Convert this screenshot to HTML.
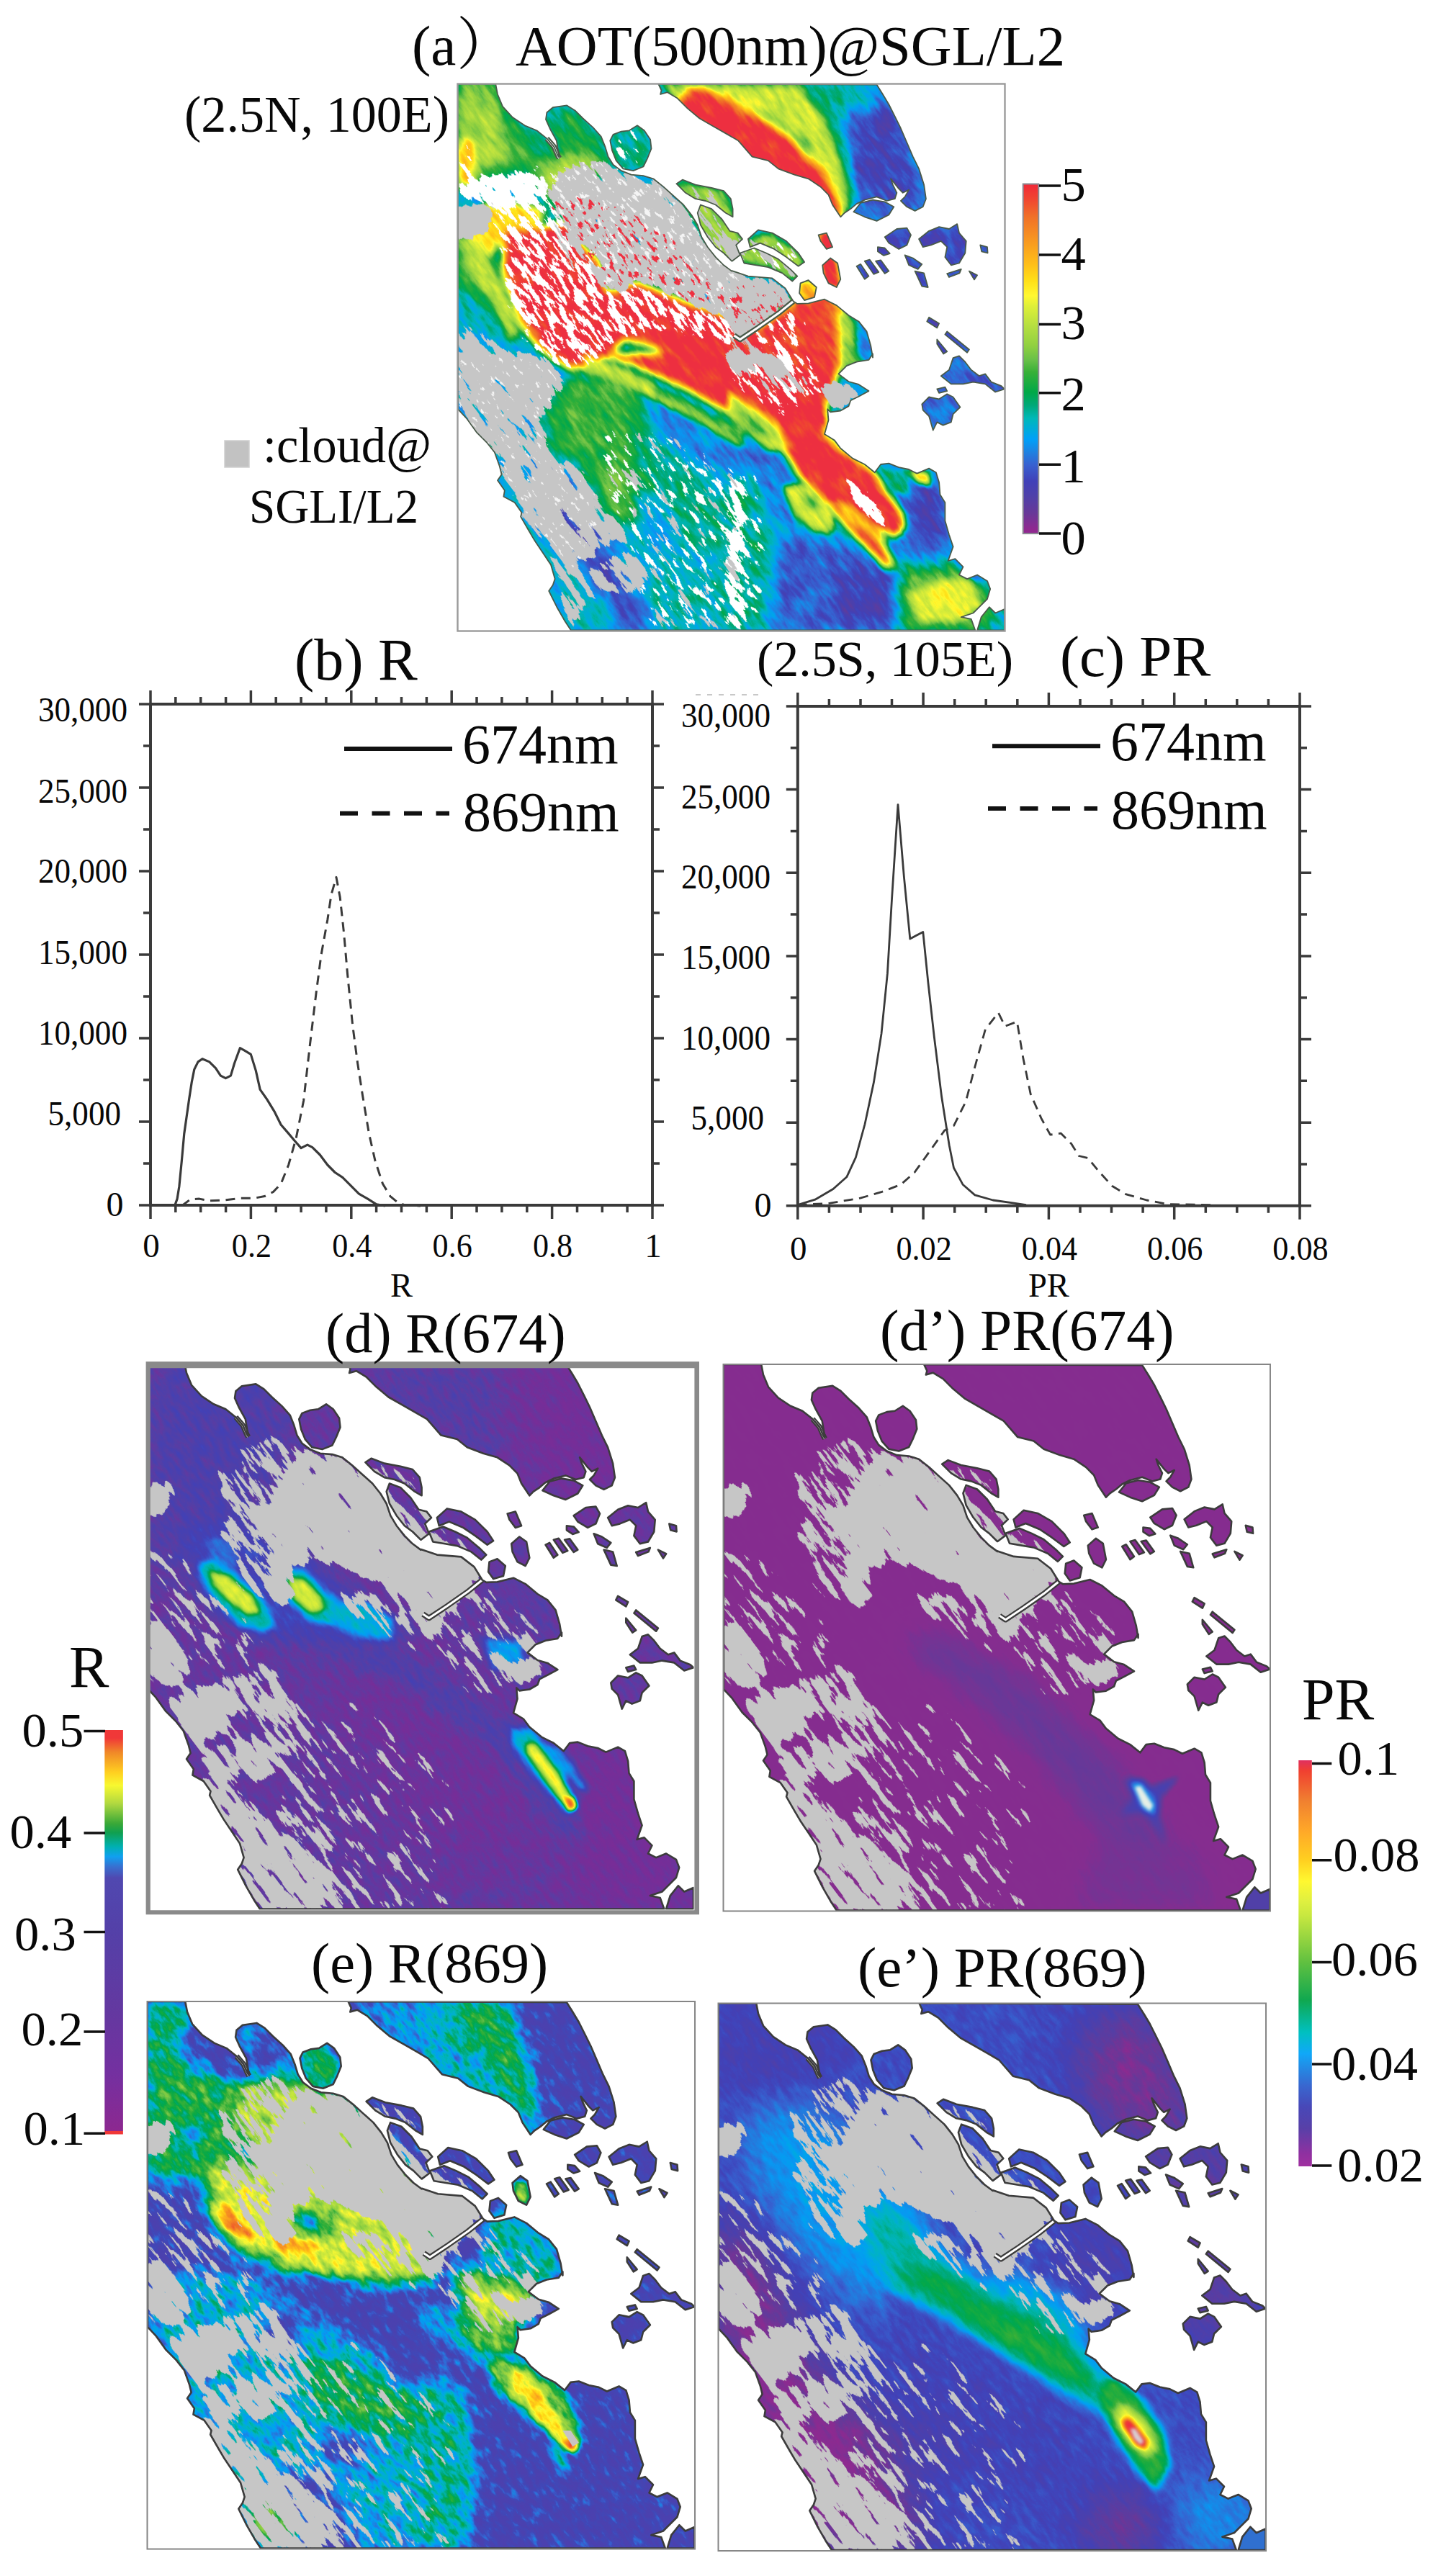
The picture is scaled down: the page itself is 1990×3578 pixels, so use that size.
<!DOCTYPE html><html><head><meta charset="utf-8"><title>Figure</title><style>html,body{margin:0;padding:0;background:#fff}svg{display:block}text{font-family:"Liberation Serif","Noto Serif CJK SC",serif;fill:#080808}</style></head><body>
<svg width="1990" height="3578" viewBox="0 0 1990 3578">
<defs><linearGradient id="gAOT" x1="0" y1="0" x2="0" y2="1"><stop offset="0" stop-color="#f02838"/><stop offset="0.047" stop-color="#f04830"/><stop offset="0.093" stop-color="#f07028"/><stop offset="0.163" stop-color="#f89820"/><stop offset="0.232" stop-color="#ffc018"/><stop offset="0.278" stop-color="#ffe018"/><stop offset="0.32" stop-color="#fff830"/><stop offset="0.348" stop-color="#e0f038"/><stop offset="0.402" stop-color="#b8e040"/><stop offset="0.463" stop-color="#90d040"/><stop offset="0.5035" stop-color="#68c048"/><stop offset="0.538" stop-color="#38b038"/><stop offset="0.596" stop-color="#00a848"/><stop offset="0.633" stop-color="#00a878"/><stop offset="0.67" stop-color="#00b8b8"/><stop offset="0.73" stop-color="#00a0f8"/><stop offset="0.769" stop-color="#2080e0"/><stop offset="0.804" stop-color="#3860d0"/><stop offset="0.85" stop-color="#4040b8"/><stop offset="0.896" stop-color="#5040a8"/><stop offset="0.942" stop-color="#683898"/><stop offset="0.988" stop-color="#902890"/><stop offset="1" stop-color="#902890"/></linearGradient><linearGradient id="gR" x1="0" y1="0" x2="0" y2="1"><stop offset="0" stop-color="#f03838"/><stop offset="0.02" stop-color="#f03838"/><stop offset="0.055" stop-color="#f08828"/><stop offset="0.105" stop-color="#ffd020"/><stop offset="0.137" stop-color="#f8f830"/><stop offset="0.182" stop-color="#b0d840"/><stop offset="0.232" stop-color="#38a838"/><stop offset="0.254" stop-color="#10a050"/><stop offset="0.288" stop-color="#00b0b0"/><stop offset="0.313" stop-color="#10a0f0"/><stop offset="0.338" stop-color="#3870d0"/><stop offset="0.366" stop-color="#5048b0"/><stop offset="0.5" stop-color="#5440a8"/><stop offset="0.7" stop-color="#6438a0"/><stop offset="0.85" stop-color="#7430a0"/><stop offset="0.991" stop-color="#8c2890"/><stop offset="0.992" stop-color="#f03838"/><stop offset="1" stop-color="#f03838"/></linearGradient><linearGradient id="gPR" x1="0" y1="0" x2="0" y2="1"><stop offset="0" stop-color="#e03060"/><stop offset="0.026" stop-color="#f04030"/><stop offset="0.1" stop-color="#f08030"/><stop offset="0.174" stop-color="#ffa828"/><stop offset="0.2465" stop-color="#ffd020"/><stop offset="0.298" stop-color="#fff830"/><stop offset="0.3456" stop-color="#e0f040"/><stop offset="0.382" stop-color="#c8e840"/><stop offset="0.498" stop-color="#60c040"/><stop offset="0.591" stop-color="#10a850"/><stop offset="0.67" stop-color="#00c0c0"/><stop offset="0.722" stop-color="#10a8f8"/><stop offset="0.75" stop-color="#2090e8"/><stop offset="0.8" stop-color="#3868d0"/><stop offset="0.853" stop-color="#4848b8"/><stop offset="0.906" stop-color="#5840a8"/><stop offset="0.97" stop-color="#9030a0"/><stop offset="1" stop-color="#a030a0"/></linearGradient><clipPath id="land"><path d="M0,0 L52.7,0 L55.5,14.5 L62.5,31.3 L76.4,46.6 L93.2,57.8 L109.9,64.8 L123.9,75.9 L133.7,87.1 L139.2,99.7 L141.2,102.5 L137.3,78.7 L128.1,62 L122.5,49.4 L123.9,39.7 L132.3,32.7 L151.8,29.9 L163,36.9 L174.1,48 L188.1,60.6 L199.2,73.1 L204.8,87.1 L209,101.1 L216,112.2 L227.2,120.6 L241.1,126.2 L257.9,127.6 L271.8,131.8 L285.8,142.9 L299.7,155.5 L313.7,168 L324.8,182 L333.2,196 L338.8,212.7 L347.2,226.7 L358.3,240.6 L369.5,251.8 L380.7,260.1 L381.1,259.6 L403.4,267.1 L436.9,269.9 L455,283.9 L466.2,302 L471.8,305.4 L487.1,304.8 L509.5,299.2 L526.2,307.6 L543,321.5 L556.9,329.9 L568.1,343.9 L573.7,363.4 L576.5,380.2 L576.5,375 L570.9,383.4 L554.1,386.2 L540.2,391.7 L529,402.9 L543,413.5 L556.9,417.4 L570.9,426.6 L556.9,434.2 L545.8,439.8 L543,447.6 L531.8,454 L517.8,455.9 L513.7,451.8 L515,467.1 L509.5,486.6 L523.4,495 L531.8,506.2 L548.5,520.1 L565.3,528.5 L579.2,539.7 L587.6,528.5 L598.8,527.1 L612.7,532.7 L626.7,535.5 L637.9,541.1 L654.6,534.1 L664.4,539.7 L668.6,553.6 L670,570.4 L676.9,581.5 L676.9,606.7 L682.5,626.2 L688.1,642.9 L681.1,662.5 L690.9,659.7 L702,670.8 L696.5,682 L707.6,687.6 L721.6,682 L735.5,690.4 L739.7,701.5 L735.5,715.5 L724.4,726.7 L716,735 L699.3,740.6 L713.2,743.4 L718.8,759 L157.4,759 L149,746.2 L137.8,726.7 L126.7,704.3 L132.3,696 L135.1,687.6 L129.5,668.1 L118.3,651.3 L107.1,634.6 L98.8,620.6 L87.6,601.1 L89,595.5 L79.2,581.5 L63.9,573.2 L65.3,564.8 L55.5,550.8 L61.1,542.5 L58.3,531.3 L51.3,511.8 L40.2,497.8 L26.2,483.8 L12.2,464.3 L0.5,451.8ZM278.8,0 L283,9 L281.6,14.5 L291.3,11.7 L305.3,20.1 L319.3,34.1 L336,48 L355.5,59.2 L375.1,70.4 L389.5,78.7 L409,101.1 L431.3,106.6 L445.3,117.8 L467.6,126.2 L487.1,131.8 L503.9,142.9 L515,154.1 L520.6,168 L531.8,184.8 L537.4,179.2 L545.8,173.6 L554.1,166.6 L565.3,161.1 L582,156.9 L596,162.5 L607.2,159.7 L609.9,151.3 L604.4,140.1 L601.6,131.8 L612.7,145.7 L618.3,151.3 L626.7,147.1 L621.1,156.9 L615.5,162.5 L623.9,170.8 L635.1,176.4 L646.2,170.8 L650.4,159.7 L647.6,140.1 L640.6,117.8 L632.3,101.1 L623.9,81.5 L615.5,62 L607.2,45.2 L598.8,28.5 L590.4,14.5 L582,1.1ZM216,70.4 L227.2,66.2 L238.3,64.8 L249.5,57.8 L259.2,64.8 L267.6,77.3 L269,89.9 L263.4,103.8 L257.9,115 L243.9,120.6 L229.9,117.8 L220.2,106.6 L214.6,92.7 L211.8,78.7ZM303.9,138.7 L312.3,133.2 L330.4,140.1 L352.7,144.3 L369.5,148.5 L379.3,159.7 L382.1,173.6 L382.1,184.8 L372.3,179.2 L358.3,168 L344.4,162.5 L330.4,159.7 L316.5,151.3ZM337.4,168 L352.7,173.6 L366.7,187.6 L377.9,204.3 L389,207.1 L395.5,215.5 L386.7,223.9 L392.2,237.8 L381.1,246.2 L380.7,246.2 L369.5,235 L358.3,226.7 L347.2,212.7 L337.4,196 L333.2,179.2ZM403.4,215.5 L417.4,202.9 L436.9,207.1 L456.4,218.3 L473.2,235 L481.6,247.6 L473.2,253.2 L456.4,240.6 L439.7,229.4 L420.2,221.1 L406.2,226.7ZM392.2,235 L411.8,228 L428.5,235 L445.3,243.4 L462,257.4 L471.8,267.1 L464.8,274.1 L450.9,262.9 L431.3,254.6 L414.6,251.8 L397.8,249ZM476,276.9 L487.1,272.7 L498.3,282.5 L495.5,296.4 L481.6,300.6 L474.6,290.8ZM549.9,177.8 L559.7,165.3 L576.5,161.1 L593.2,163.9 L605.8,170.8 L598.8,182 L582,190.4 L565.3,184.8ZM640.6,215.5 L654.6,204.3 L668.6,198.7 L682.5,201.5 L693.7,194.6 L696.5,207.1 L706.2,218.3 L704.8,235 L696.5,249 L685.3,251.8 L676.9,240.6 L679.7,226.7 L671.3,218.3 L657.4,223.9 L646.2,226.7ZM593.2,212.7 L609.9,201.5 L623.9,200.1 L629.5,209.9 L623.9,223.9 L612.7,229.4 L598.8,221.1ZM501.1,209.9 L512.3,207.1 L520.6,226.7 L512.3,229.4 L503.9,218.3ZM506.7,251.8 L517.8,242 L527.6,249 L531.8,271.3 L526.2,282.5 L515,276.9 L508.1,262.9ZM554.1,253.2 L559.7,250.4 L570.9,267.1 L565.3,271.3ZM565.3,246.2 L572.3,244.2 L584.8,261.5 L577.8,264.3ZM580.6,246.2 L587.6,244.8 L598.8,260.1 L593.2,263.5ZM583.4,226.7 L593.2,228 L600.2,235.6 L591.8,238.4 L583.4,232.8ZM621.1,237.8 L632.3,242 L644.8,250.4 L639.2,257.4 L626.7,251.8ZM635.1,260.1 L647.6,262.9 L653.2,282.5 L644.8,281.1ZM725.8,223.9 L735.5,226.7 L736.1,235 L727.7,232.8ZM679.7,263.5 L699.3,257.4 L697,262.9 L682.5,268.5ZM710.4,260.1 L721.6,265.7 L717.4,271.9ZM654.6,324.3 L668.6,332.7 L665.8,338.9 L651.8,329.9ZM679.7,343.9 L710.4,369 L707.6,373.2 L676.9,348.1ZM665.8,355 L679.7,371.8 L674.7,375.1 L665.8,361.2ZM671.3,405.7 L682.5,397.3 L688.1,380.6 L696.5,377.8 L704.8,386.2 L713.2,397.3 L724.4,405.7 L732.7,402.9 L741.1,414.1 L755.1,419.7 L759.5,423.8 L746.7,428 L732.7,416.9 L716,414.1 L702,416.9 L685.3,416.9ZM644.8,444.8 L654.6,435 L668.6,437.8 L679.7,430.8 L688.1,435 L697.9,449 L688.1,458.7 L685.3,469.9 L674.1,474.1 L665.8,469.9 L660.2,481.1 L654.6,461.5 L646.2,453.1ZM665.8,423.8 L676.9,421.1 L679.7,426.6 L668.6,429.4ZM721.6,759 L727.2,740.6 L738.3,726.7 L746.7,735 L759.5,729.5 L759.5,759Z"/></clipPath>
<clipPath id="box"><rect x="0" y="0" width="760" height="760"/></clipPath>
<path id="coast" d="M0,0 L52.7,0 L55.5,14.5 L62.5,31.3 L76.4,46.6 L93.2,57.8 L109.9,64.8 L123.9,75.9 L133.7,87.1 L139.2,99.7 L141.2,102.5 L137.3,78.7 L128.1,62 L122.5,49.4 L123.9,39.7 L132.3,32.7 L151.8,29.9 L163,36.9 L174.1,48 L188.1,60.6 L199.2,73.1 L204.8,87.1 L209,101.1 L216,112.2 L227.2,120.6 L241.1,126.2 L257.9,127.6 L271.8,131.8 L285.8,142.9 L299.7,155.5 L313.7,168 L324.8,182 L333.2,196 L338.8,212.7 L347.2,226.7 L358.3,240.6 L369.5,251.8 L380.7,260.1 L381.1,259.6 L403.4,267.1 L436.9,269.9 L455,283.9 L466.2,302 L471.8,305.4 L487.1,304.8 L509.5,299.2 L526.2,307.6 L543,321.5 L556.9,329.9 L568.1,343.9 L573.7,363.4 L576.5,380.2 L576.5,375 L570.9,383.4 L554.1,386.2 L540.2,391.7 L529,402.9 L543,413.5 L556.9,417.4 L570.9,426.6 L556.9,434.2 L545.8,439.8 L543,447.6 L531.8,454 L517.8,455.9 L513.7,451.8 L515,467.1 L509.5,486.6 L523.4,495 L531.8,506.2 L548.5,520.1 L565.3,528.5 L579.2,539.7 L587.6,528.5 L598.8,527.1 L612.7,532.7 L626.7,535.5 L637.9,541.1 L654.6,534.1 L664.4,539.7 L668.6,553.6 L670,570.4 L676.9,581.5 L676.9,606.7 L682.5,626.2 L688.1,642.9 L681.1,662.5 L690.9,659.7 L702,670.8 L696.5,682 L707.6,687.6 L721.6,682 L735.5,690.4 L739.7,701.5 L735.5,715.5 L724.4,726.7 L716,735 L699.3,740.6 L713.2,743.4 L718.8,759 L157.4,759 L149,746.2 L137.8,726.7 L126.7,704.3 L132.3,696 L135.1,687.6 L129.5,668.1 L118.3,651.3 L107.1,634.6 L98.8,620.6 L87.6,601.1 L89,595.5 L79.2,581.5 L63.9,573.2 L65.3,564.8 L55.5,550.8 L61.1,542.5 L58.3,531.3 L51.3,511.8 L40.2,497.8 L26.2,483.8 L12.2,464.3 L0.5,451.8ZM278.8,0 L283,9 L281.6,14.5 L291.3,11.7 L305.3,20.1 L319.3,34.1 L336,48 L355.5,59.2 L375.1,70.4 L389.5,78.7 L409,101.1 L431.3,106.6 L445.3,117.8 L467.6,126.2 L487.1,131.8 L503.9,142.9 L515,154.1 L520.6,168 L531.8,184.8 L537.4,179.2 L545.8,173.6 L554.1,166.6 L565.3,161.1 L582,156.9 L596,162.5 L607.2,159.7 L609.9,151.3 L604.4,140.1 L601.6,131.8 L612.7,145.7 L618.3,151.3 L626.7,147.1 L621.1,156.9 L615.5,162.5 L623.9,170.8 L635.1,176.4 L646.2,170.8 L650.4,159.7 L647.6,140.1 L640.6,117.8 L632.3,101.1 L623.9,81.5 L615.5,62 L607.2,45.2 L598.8,28.5 L590.4,14.5 L582,1.1ZM216,70.4 L227.2,66.2 L238.3,64.8 L249.5,57.8 L259.2,64.8 L267.6,77.3 L269,89.9 L263.4,103.8 L257.9,115 L243.9,120.6 L229.9,117.8 L220.2,106.6 L214.6,92.7 L211.8,78.7ZM303.9,138.7 L312.3,133.2 L330.4,140.1 L352.7,144.3 L369.5,148.5 L379.3,159.7 L382.1,173.6 L382.1,184.8 L372.3,179.2 L358.3,168 L344.4,162.5 L330.4,159.7 L316.5,151.3ZM337.4,168 L352.7,173.6 L366.7,187.6 L377.9,204.3 L389,207.1 L395.5,215.5 L386.7,223.9 L392.2,237.8 L381.1,246.2 L380.7,246.2 L369.5,235 L358.3,226.7 L347.2,212.7 L337.4,196 L333.2,179.2ZM403.4,215.5 L417.4,202.9 L436.9,207.1 L456.4,218.3 L473.2,235 L481.6,247.6 L473.2,253.2 L456.4,240.6 L439.7,229.4 L420.2,221.1 L406.2,226.7ZM392.2,235 L411.8,228 L428.5,235 L445.3,243.4 L462,257.4 L471.8,267.1 L464.8,274.1 L450.9,262.9 L431.3,254.6 L414.6,251.8 L397.8,249ZM476,276.9 L487.1,272.7 L498.3,282.5 L495.5,296.4 L481.6,300.6 L474.6,290.8ZM549.9,177.8 L559.7,165.3 L576.5,161.1 L593.2,163.9 L605.8,170.8 L598.8,182 L582,190.4 L565.3,184.8ZM640.6,215.5 L654.6,204.3 L668.6,198.7 L682.5,201.5 L693.7,194.6 L696.5,207.1 L706.2,218.3 L704.8,235 L696.5,249 L685.3,251.8 L676.9,240.6 L679.7,226.7 L671.3,218.3 L657.4,223.9 L646.2,226.7ZM593.2,212.7 L609.9,201.5 L623.9,200.1 L629.5,209.9 L623.9,223.9 L612.7,229.4 L598.8,221.1ZM501.1,209.9 L512.3,207.1 L520.6,226.7 L512.3,229.4 L503.9,218.3ZM506.7,251.8 L517.8,242 L527.6,249 L531.8,271.3 L526.2,282.5 L515,276.9 L508.1,262.9ZM554.1,253.2 L559.7,250.4 L570.9,267.1 L565.3,271.3ZM565.3,246.2 L572.3,244.2 L584.8,261.5 L577.8,264.3ZM580.6,246.2 L587.6,244.8 L598.8,260.1 L593.2,263.5ZM583.4,226.7 L593.2,228 L600.2,235.6 L591.8,238.4 L583.4,232.8ZM621.1,237.8 L632.3,242 L644.8,250.4 L639.2,257.4 L626.7,251.8ZM635.1,260.1 L647.6,262.9 L653.2,282.5 L644.8,281.1ZM725.8,223.9 L735.5,226.7 L736.1,235 L727.7,232.8ZM679.7,263.5 L699.3,257.4 L697,262.9 L682.5,268.5ZM710.4,260.1 L721.6,265.7 L717.4,271.9ZM654.6,324.3 L668.6,332.7 L665.8,338.9 L651.8,329.9ZM679.7,343.9 L710.4,369 L707.6,373.2 L676.9,348.1ZM665.8,355 L679.7,371.8 L674.7,375.1 L665.8,361.2ZM671.3,405.7 L682.5,397.3 L688.1,380.6 L696.5,377.8 L704.8,386.2 L713.2,397.3 L724.4,405.7 L732.7,402.9 L741.1,414.1 L755.1,419.7 L759.5,423.8 L746.7,428 L732.7,416.9 L716,414.1 L702,416.9 L685.3,416.9ZM644.8,444.8 L654.6,435 L668.6,437.8 L679.7,430.8 L688.1,435 L697.9,449 L688.1,458.7 L685.3,469.9 L674.1,474.1 L665.8,469.9 L660.2,481.1 L654.6,461.5 L646.2,453.1ZM665.8,423.8 L676.9,421.1 L679.7,426.6 L668.6,429.4ZM721.6,759 L727.2,740.6 L738.3,726.7 L746.7,735 L759.5,729.5 L759.5,759Z"/>
<filter id="b2" filterUnits="userSpaceOnUse" x="-180" y="-180" width="1120" height="1120" color-interpolation-filters="sRGB"><feGaussianBlur stdDeviation="2"/></filter>
<filter id="b3" filterUnits="userSpaceOnUse" x="-180" y="-180" width="1120" height="1120" color-interpolation-filters="sRGB"><feGaussianBlur stdDeviation="3"/></filter>
<filter id="b4" filterUnits="userSpaceOnUse" x="-180" y="-180" width="1120" height="1120" color-interpolation-filters="sRGB"><feGaussianBlur stdDeviation="4"/></filter>
<filter id="b5" filterUnits="userSpaceOnUse" x="-180" y="-180" width="1120" height="1120" color-interpolation-filters="sRGB"><feGaussianBlur stdDeviation="5"/></filter>
<filter id="b6" filterUnits="userSpaceOnUse" x="-180" y="-180" width="1120" height="1120" color-interpolation-filters="sRGB"><feGaussianBlur stdDeviation="6"/></filter>
<filter id="b8" filterUnits="userSpaceOnUse" x="-180" y="-180" width="1120" height="1120" color-interpolation-filters="sRGB"><feGaussianBlur stdDeviation="8"/></filter>
<filter id="b10" filterUnits="userSpaceOnUse" x="-180" y="-180" width="1120" height="1120" color-interpolation-filters="sRGB"><feGaussianBlur stdDeviation="10"/></filter>
<filter id="b12" filterUnits="userSpaceOnUse" x="-180" y="-180" width="1120" height="1120" color-interpolation-filters="sRGB"><feGaussianBlur stdDeviation="12"/></filter>
<filter id="b15" filterUnits="userSpaceOnUse" x="-180" y="-180" width="1120" height="1120" color-interpolation-filters="sRGB"><feGaussianBlur stdDeviation="15"/></filter>
<filter id="b20" filterUnits="userSpaceOnUse" x="-180" y="-180" width="1120" height="1120" color-interpolation-filters="sRGB"><feGaussianBlur stdDeviation="20"/></filter>
<filter id="b30" filterUnits="userSpaceOnUse" x="-180" y="-180" width="1120" height="1120" color-interpolation-filters="sRGB"><feGaussianBlur stdDeviation="30"/></filter>
<filter id="b45" filterUnits="userSpaceOnUse" x="-180" y="-180" width="1120" height="1120" color-interpolation-filters="sRGB"><feGaussianBlur stdDeviation="45"/></filter>
<filter id="cm_dp" filterUnits="userSpaceOnUse" x="-180" y="-180" width="1120" height="1120" color-interpolation-filters="sRGB"><feTurbulence type="fractalNoise" baseFrequency="0.03 0.1" numOctaves="3" seed="3" result="n0"/><feColorMatrix in="n0" type="matrix" values="1 0 0 0 0 1 0 0 0 0 1 0 0 0 0 0 0 0 0 1" result="n"/><feComposite in="SourceGraphic" in2="n" operator="arithmetic" k1="0" k2="1" k3="0.025" k4="-0.0125" result="v"/><feComponentTransfer in="v"><feFuncR type="table" tableValues="0.525 0.518 0.460 0.404 0.363 0.322 0.292 0.265 0.244 0.231 0.209 0.155 0.097 0.032 0.000 0.000 0.000 0.000 0.000 0.000 0.000 0.061 0.136 0.212 0.318 0.421 0.499 0.572 0.624 0.675 0.727 0.785 0.844 0.913 1.000 1.000 1.000 1.000 1.000 0.995 0.987 0.979 0.971 0.962 0.953 0.944 0.941 0.941 0.940 0.937 0.933"/><feFuncG type="table" tableValues="0.176 0.180 0.201 0.221 0.235 0.248 0.251 0.251 0.278 0.333 0.391 0.463 0.531 0.595 0.643 0.675 0.706 0.705 0.671 0.659 0.659 0.667 0.678 0.689 0.723 0.758 0.789 0.819 0.839 0.860 0.881 0.904 0.927 0.950 0.973 0.928 0.883 0.829 0.775 0.726 0.680 0.635 0.589 0.545 0.500 0.455 0.395 0.327 0.268 0.228 0.188"/><feFuncB type="table" tableValues="0.561 0.565 0.581 0.599 0.626 0.653 0.681 0.708 0.742 0.783 0.823 0.859 0.900 0.948 0.931 0.847 0.763 0.654 0.518 0.404 0.303 0.265 0.243 0.222 0.252 0.280 0.264 0.251 0.251 0.251 0.250 0.238 0.227 0.211 0.188 0.143 0.099 0.094 0.094 0.100 0.109 0.118 0.127 0.136 0.145 0.154 0.166 0.179 0.198 0.224 0.251"/></feComponentTransfer></filter>
<filter id="cm_ep" filterUnits="userSpaceOnUse" x="-180" y="-180" width="1120" height="1120" color-interpolation-filters="sRGB"><feTurbulence type="fractalNoise" baseFrequency="0.04 0.12" numOctaves="4" seed="4" result="n0"/><feColorMatrix in="n0" type="matrix" values="1 0 0 0 0 1 0 0 0 0 1 0 0 0 0 0 0 0 0 1" result="n"/><feComposite in="SourceGraphic" in2="n" operator="arithmetic" k1="0" k2="1" k3="0.09" k4="-0.0450" result="v"/><feComponentTransfer in="v"><feFuncR type="table" tableValues="0.557 0.531 0.466 0.404 0.363 0.322 0.292 0.265 0.244 0.231 0.209 0.155 0.097 0.032 0.000 0.000 0.000 0.000 0.000 0.000 0.000 0.061 0.136 0.212 0.318 0.421 0.499 0.572 0.624 0.675 0.727 0.785 0.844 0.913 1.000 1.000 1.000 1.000 1.000 0.995 0.987 0.979 0.971 0.962 0.953 0.944 0.941 0.941 0.940 0.937 0.933"/><feFuncG type="table" tableValues="0.165 0.174 0.198 0.221 0.235 0.248 0.251 0.251 0.278 0.333 0.391 0.463 0.531 0.595 0.643 0.675 0.706 0.705 0.671 0.659 0.659 0.667 0.678 0.689 0.723 0.758 0.789 0.819 0.839 0.860 0.881 0.904 0.927 0.950 0.973 0.928 0.883 0.829 0.775 0.726 0.680 0.635 0.589 0.545 0.500 0.455 0.395 0.327 0.268 0.228 0.188"/><feFuncB type="table" tableValues="0.565 0.570 0.584 0.599 0.626 0.653 0.681 0.708 0.742 0.783 0.823 0.859 0.900 0.948 0.931 0.847 0.763 0.654 0.518 0.404 0.303 0.265 0.243 0.222 0.252 0.280 0.264 0.251 0.251 0.251 0.250 0.238 0.227 0.211 0.188 0.143 0.099 0.094 0.094 0.100 0.109 0.118 0.127 0.136 0.145 0.154 0.166 0.179 0.198 0.224 0.251"/></feComponentTransfer></filter>
<filter id="cm_e" filterUnits="userSpaceOnUse" x="-180" y="-180" width="1120" height="1120" color-interpolation-filters="sRGB"><feTurbulence type="fractalNoise" baseFrequency="0.045 0.11" numOctaves="4" seed="9" result="n0"/><feColorMatrix in="n0" type="matrix" values="1 0 0 0 0 1 0 0 0 0 1 0 0 0 0 0 0 0 0 1" result="n"/><feComposite in="SourceGraphic" in2="n" operator="arithmetic" k1="0" k2="1" k3="0.32" k4="-0.1600" result="v"/><feComponentTransfer in="v"><feFuncR type="table" tableValues="0.306 0.303 0.300 0.296 0.293 0.290 0.277 0.264 0.251 0.234 0.209 0.155 0.097 0.032 0.000 0.000 0.000 0.000 0.000 0.000 0.000 0.061 0.136 0.212 0.318 0.421 0.499 0.572 0.624 0.675 0.727 0.785 0.844 0.913 1.000 1.000 1.000 1.000 1.000 0.995 0.987 0.979 0.971 0.962 0.953 0.944 0.941 0.941 0.940 0.937 0.933"/><feFuncG type="table" tableValues="0.251 0.253 0.254 0.256 0.257 0.259 0.267 0.275 0.282 0.335 0.391 0.463 0.531 0.595 0.643 0.675 0.706 0.705 0.671 0.659 0.659 0.667 0.678 0.689 0.723 0.758 0.789 0.819 0.839 0.860 0.881 0.904 0.927 0.950 0.973 0.928 0.883 0.829 0.775 0.726 0.680 0.635 0.589 0.545 0.500 0.455 0.395 0.327 0.268 0.228 0.188"/><feFuncB type="table" tableValues="0.682 0.684 0.685 0.687 0.689 0.690 0.701 0.711 0.722 0.774 0.823 0.859 0.900 0.948 0.931 0.847 0.763 0.654 0.518 0.404 0.303 0.265 0.243 0.222 0.252 0.280 0.264 0.251 0.251 0.251 0.250 0.238 0.227 0.211 0.188 0.143 0.099 0.094 0.094 0.100 0.109 0.118 0.127 0.136 0.145 0.154 0.166 0.179 0.198 0.224 0.251"/></feComponentTransfer></filter>
<filter id="cm_d" filterUnits="userSpaceOnUse" x="-180" y="-180" width="1120" height="1120" color-interpolation-filters="sRGB"><feTurbulence type="fractalNoise" baseFrequency="0.05 0.13" numOctaves="4" seed="11" result="n0"/><feColorMatrix in="n0" type="matrix" values="1 0 0 0 0 1 0 0 0 0 1 0 0 0 0 0 0 0 0 1" result="n"/><feComposite in="SourceGraphic" in2="n" operator="arithmetic" k1="0" k2="1" k3="0.1" k4="-0.0500" result="v"/><feComponentTransfer in="v"><feFuncR type="table" tableValues="0.486 0.471 0.455 0.419 0.379 0.325 0.292 0.265 0.244 0.231 0.209 0.155 0.097 0.032 0.000 0.000 0.000 0.000 0.000 0.000 0.000 0.061 0.136 0.212 0.318 0.421 0.499 0.572 0.624 0.675 0.727 0.785 0.844 0.913 1.000 1.000 1.000 1.000 1.000 0.995 0.987 0.979 0.971 0.962 0.953 0.944 0.941 0.941 0.940 0.937 0.933"/><feFuncG type="table" tableValues="0.173 0.178 0.184 0.204 0.225 0.247 0.251 0.251 0.278 0.333 0.391 0.463 0.531 0.595 0.643 0.675 0.706 0.705 0.671 0.659 0.659 0.667 0.678 0.689 0.723 0.758 0.789 0.819 0.839 0.860 0.881 0.904 0.927 0.950 0.973 0.928 0.883 0.829 0.775 0.726 0.680 0.635 0.589 0.545 0.500 0.455 0.395 0.327 0.268 0.228 0.188"/><feFuncB type="table" tableValues="0.588 0.594 0.600 0.613 0.630 0.654 0.681 0.708 0.742 0.783 0.823 0.859 0.900 0.948 0.931 0.847 0.763 0.654 0.518 0.404 0.303 0.265 0.243 0.222 0.252 0.280 0.264 0.251 0.251 0.251 0.250 0.238 0.227 0.211 0.188 0.143 0.099 0.094 0.094 0.100 0.109 0.118 0.127 0.136 0.145 0.154 0.166 0.179 0.198 0.224 0.251"/></feComponentTransfer></filter>
<filter id="cm_a" filterUnits="userSpaceOnUse" x="-180" y="-180" width="1120" height="1120" color-interpolation-filters="sRGB"><feTurbulence type="fractalNoise" baseFrequency="0.03 0.11" numOctaves="4" seed="13" result="n0"/><feColorMatrix in="n0" type="matrix" values="1 0 0 0 0 1 0 0 0 0 1 0 0 0 0 0 0 0 0 1" result="n"/><feComposite in="SourceGraphic" in2="n" operator="arithmetic" k1="0" k2="1" k3="0.2" k4="-0.1000" result="v"/><feComponentTransfer in="v"><feFuncR type="table" tableValues="0.557 0.531 0.466 0.404 0.363 0.322 0.292 0.265 0.244 0.231 0.209 0.155 0.097 0.032 0.000 0.000 0.000 0.000 0.000 0.000 0.000 0.061 0.136 0.212 0.318 0.421 0.499 0.572 0.624 0.675 0.727 0.785 0.844 0.913 1.000 1.000 1.000 1.000 1.000 0.995 0.987 0.979 0.971 0.962 0.953 0.944 0.941 0.941 0.940 0.937 0.933"/><feFuncG type="table" tableValues="0.165 0.174 0.198 0.221 0.235 0.248 0.251 0.251 0.278 0.333 0.391 0.463 0.531 0.595 0.643 0.675 0.706 0.705 0.671 0.659 0.659 0.667 0.678 0.689 0.723 0.758 0.789 0.819 0.839 0.860 0.881 0.904 0.927 0.950 0.973 0.928 0.883 0.829 0.775 0.726 0.680 0.635 0.589 0.545 0.500 0.455 0.395 0.327 0.268 0.228 0.188"/><feFuncB type="table" tableValues="0.565 0.570 0.584 0.599 0.626 0.653 0.681 0.708 0.742 0.783 0.823 0.859 0.900 0.948 0.931 0.847 0.763 0.654 0.518 0.404 0.303 0.265 0.243 0.222 0.252 0.280 0.264 0.251 0.251 0.251 0.250 0.238 0.227 0.211 0.188 0.143 0.099 0.094 0.094 0.100 0.109 0.118 0.127 0.136 0.145 0.154 0.166 0.179 0.198 0.224 0.251"/></feComponentTransfer></filter>
<filter id="cf1" filterUnits="userSpaceOnUse" x="-180" y="-180" width="1120" height="1120" color-interpolation-filters="sRGB">
<feGaussianBlur in="SourceGraphic" stdDeviation="6" result="d0"/>
<feColorMatrix in="d0" type="matrix" values="0 0 0 0 0 0 0 0 0 0 0 0 0 0 0 1 0 0 0 0" result="d"/>
<feTurbulence type="fractalNoise" baseFrequency="0.022 0.11" numOctaves="4" seed="2" result="n0"/>
<feColorMatrix in="n0" type="matrix" values="0 0 0 0 0 0 0 0 0 0 0 0 0 0 0 1.0 0 0 0 0.0" result="n"/>
<feComposite in="d" in2="n" operator="arithmetic" k1="0" k2="1" k3="1" k4="-1" result="s"/>
<feComponentTransfer in="s" result="t"><feFuncA type="linear" slope="40" intercept="0"/></feComponentTransfer>
<feFlood flood-color="#c6c6c6" result="f"/>
<feComposite in="f" in2="t" operator="in"/>
</filter>
<filter id="cf2" filterUnits="userSpaceOnUse" x="-180" y="-180" width="1120" height="1120" color-interpolation-filters="sRGB">
<feGaussianBlur in="SourceGraphic" stdDeviation="6" result="d0"/>
<feColorMatrix in="d0" type="matrix" values="0 0 0 0 0 0 0 0 0 0 0 0 0 0 0 1 0 0 0 0" result="d"/>
<feTurbulence type="fractalNoise" baseFrequency="0.022 0.11" numOctaves="4" seed="7" result="n0"/>
<feColorMatrix in="n0" type="matrix" values="0 0 0 0 0 0 0 0 0 0 0 0 0 0 0 1.0 0 0 0 0.0" result="n"/>
<feComposite in="d" in2="n" operator="arithmetic" k1="0" k2="1" k3="1" k4="-1" result="s"/>
<feComponentTransfer in="s" result="t"><feFuncA type="linear" slope="40" intercept="0"/></feComponentTransfer>
<feFlood flood-color="#c6c6c6" result="f"/>
<feComposite in="f" in2="t" operator="in"/>
</filter>
<filter id="cfw" filterUnits="userSpaceOnUse" x="-180" y="-180" width="1120" height="1120" color-interpolation-filters="sRGB">
<feGaussianBlur in="SourceGraphic" stdDeviation="6" result="d0"/>
<feColorMatrix in="d0" type="matrix" values="0 0 0 0 0 0 0 0 0 0 0 0 0 0 0 1 0 0 0 0" result="d"/>
<feTurbulence type="fractalNoise" baseFrequency="0.04 0.14" numOctaves="4" seed="21" result="n0"/>
<feColorMatrix in="n0" type="matrix" values="0 0 0 0 0 0 0 0 0 0 0 0 0 0 0 1.0 0 0 0 0.0" result="n"/>
<feComposite in="d" in2="n" operator="arithmetic" k1="0" k2="1" k3="1" k4="-1" result="s"/>
<feComponentTransfer in="s" result="t"><feFuncA type="linear" slope="40" intercept="0"/></feComponentTransfer>
<feFlood flood-color="#ffffff" result="f"/>
<feComposite in="f" in2="t" operator="in"/>
</filter>
<filter id="cfw2" filterUnits="userSpaceOnUse" x="-180" y="-180" width="1120" height="1120" color-interpolation-filters="sRGB">
<feGaussianBlur in="SourceGraphic" stdDeviation="5" result="d0"/>
<feColorMatrix in="d0" type="matrix" values="0 0 0 0 0 0 0 0 0 0 0 0 0 0 0 1 0 0 0 0" result="d"/>
<feTurbulence type="fractalNoise" baseFrequency="0.07 0.2" numOctaves="4" seed="33" result="n0"/>
<feColorMatrix in="n0" type="matrix" values="0 0 0 0 0 0 0 0 0 0 0 0 0 0 0 1.0 0 0 0 0.0" result="n"/>
<feComposite in="d" in2="n" operator="arithmetic" k1="0" k2="1" k3="1" k4="-1" result="s"/>
<feComponentTransfer in="s" result="t"><feFuncA type="linear" slope="40" intercept="0"/></feComponentTransfer>
<feFlood flood-color="#f4f4f4" result="f"/>
<feComposite in="f" in2="t" operator="in"/>
</filter>
<filter id="cfr" filterUnits="userSpaceOnUse" x="-180" y="-180" width="1120" height="1120" color-interpolation-filters="sRGB">
<feGaussianBlur in="SourceGraphic" stdDeviation="5" result="d0"/>
<feColorMatrix in="d0" type="matrix" values="0 0 0 0 0 0 0 0 0 0 0 0 0 0 0 1 0 0 0 0" result="d"/>
<feTurbulence type="fractalNoise" baseFrequency="0.07 0.2" numOctaves="4" seed="41" result="n0"/>
<feColorMatrix in="n0" type="matrix" values="0 0 0 0 0 0 0 0 0 0 0 0 0 0 0 1.0 0 0 0 0.0" result="n"/>
<feComposite in="d" in2="n" operator="arithmetic" k1="0" k2="1" k3="1" k4="-1" result="s"/>
<feComponentTransfer in="s" result="t"><feFuncA type="linear" slope="40" intercept="0"/></feComponentTransfer>
<feFlood flood-color="#ee3040" result="f"/>
<feComposite in="f" in2="t" operator="in"/>
</filter></defs>
<rect width="1990" height="3578" fill="#fff"/>
<g transform="translate(635.5,116.5) scale(1.0000)">
<g clip-path="url(#box)">
<g clip-path="url(#land)">
<g transform="rotate(53 380 380)"><g filter="url(#cm_a)">
<rect x="-180" y="-180" width="1120" height="1120" fill="rgb(76,76,76)"/>
<g filter="url(#b12)"><path d="M-158.9,455.4 L-121.9,406.3 L-70.6,431 L-29.9,437.2 L-8.2,464.1 L-37.3,512.1 L-69.7,522.5Z" fill="rgb(145,145,145)"/><path d="M-112,420.9 L-63.9,422.1 L-30.4,405.5 L15.3,405 L23.2,431.8 L-8.2,464.1 L-59.4,439.4Z" fill="rgb(110,110,110)"/><path d="M-43.7,409.3 L-13.1,401 L15.3,405 L4.2,424.5Z" fill="rgb(89,89,89)"/><path d="M-46.7,380.9 L-24.6,346.8 L40.6,343.6 L58.7,352 L37.7,379.9 L13.2,403.3 L-12.5,390.9Z" fill="rgb(110,110,110)"/><path d="M15,586.4 L39.6,563 L118.9,573.8 L131.1,604 L64,623.3Z" fill="rgb(128,128,128)"/><path d="M64,623.3 L95.4,605 L153.4,620.8 L119.8,665.3Z" fill="rgb(82,82,82)"/><path d="M282.6,630.8 L267.7,567.1 L318.1,500.2 L371,522.7 L411.7,570.8 L372.4,632.1 L336.7,661Z" fill="rgb(117,117,117)"/><path d="M378.6,633.3 L411.7,570.8 L496.4,634.6 L450.6,649.1Z" fill="rgb(128,128,128)"/><path d="M362.6,533.8 L496.7,448.6 L608.2,532.6 L552.3,606.9 L474.1,617.8Z" fill="rgb(92,92,92)"/><path d="M337.6,497.6 L373.9,472.5 L485.6,440.2 L541.4,482.2 L471,510.7 L401.7,528.3Z" fill="rgb(61,61,61)"/><path d="M448.5,605.5 L468.6,578.8 L560.7,595.7 L535.5,629.1Z" fill="rgb(66,66,66)"/><path d="M451.5,740.5 L535.5,629.1 L630.5,549.4 L692,595.7 L548.7,785.9Z" fill="rgb(84,84,84)"/><path d="M333.3,693.4 L363.5,653.3 L430.4,675.8 L501.9,673.7 L619.3,692.3 L594,725.7 L468.3,718.3 L393.5,724.9Z" fill="rgb(38,38,38)"/><path d="M446.9,436 L500,388.7 L562.5,407.8 L606,405.7 L624.3,464.9 L529.4,498.2Z" fill="rgb(56,56,56)"/><path d="M507.1,481.4 L532.3,447.9 L615.9,476 L713.6,567.1 L680,611.7Z" fill="rgb(92,92,92)"/><path d="M615.9,476 L685.8,406.4 L751.8,365.3 L822.7,422.2 L713.6,567.1Z" fill="rgb(48,48,48)"/><path d="M710.9,442.8 L761.2,375.9 L822.7,422.2 L772.4,489.1Z" fill="rgb(33,33,33)"/><path d="M622.4,309.7 L679,243.9 L758.7,286.6 L792.1,311.8 L750.1,367.5 L713.4,346.7Z" fill="rgb(51,51,51)"/><path d="M658.2,280.8 L687.9,250.6 L755.3,291.1 L733.5,320Z" fill="rgb(33,33,33)"/><path d="M750.1,367.5 L825.7,267.2 L898.3,321.9 L822.7,422.2Z" fill="rgb(128,128,128)"/><path d="M168.4,30.4 L208.7,-23.1 L371.6,29.8 L368.1,62.1 L319.9,116.7 L259.7,85.3Z" fill="rgb(38,38,38)"/><path d="M165,34.9 L205.3,-18.6 L220.9,21.1 L208.4,60.6Z" fill="rgb(84,84,84)"/><path d="M326.7,135.7 L444.2,-20.3 L607.6,102.9 L540.4,192 L393.5,186.1Z" fill="rgb(41,41,41)"/><path d="M524.5,180 L608.4,68.6 L697.6,135.7 L613.6,247.1Z" fill="rgb(51,51,51)"/><path d="M-1.4,441.2 L33.3,376.6 L57.9,353.1 L82.4,413.5 L64.4,455.8 L29.2,446.9Z" fill="rgb(158,158,158)"/></g>
<g filter="url(#b6)"><path d="M15.6,232.1 L85.8,138.9 L153.2,189.7 L109.1,206.5 L47.6,223.1Z" fill="rgb(158,158,158)"/><path d="M74.3,155.3 L134.8,75 L195,78.5 L241.9,85.9 L306.1,116.7 L317.7,143 L278.6,134.5 L200.5,117.5 L143.5,137.5 L89.9,167Z" fill="rgb(161,161,161)"/><path d="M133.1,77.2 L168.4,30.4 L210.1,58.4 L272.6,91.5 L317.2,111.1 L313.3,125.6 L253,94.2 L195,78.5Z" fill="rgb(92,92,92)"/><path d="M49.4,193 L75,177.4 L112,158.6 L175.5,206.5 L129.1,221.6 L75.5,237.1 L48.2,227Z" fill="rgb(255,255,255)"/><path d="M92.1,168.7 L120.1,154.8 L148,140.9 L192.1,128.7 L229.5,125.5 L257.5,125.5 L283.7,127.8 L320.2,139.6 L322.1,160.3 L277.5,154.6 L245.6,169 L210.4,188 L167.4,207.9 L143.4,207.3Z" fill="rgb(255,255,255)"/><path d="M-88.7,501.3 L-75.2,483.5 L-24.5,518.2 L-35.1,541.6Z" fill="rgb(199,199,199)"/><path d="M2.8,528.3 L25.3,489.3 L59.4,462.6 L81.1,489.4 L61.5,534 L67,573.1 L29.5,576.4Z" fill="rgb(184,184,184)"/><path d="M18.4,581.9 L36.3,567.5 L117.2,576 L175.2,591.8 L177.9,611.3 L116.5,600 L51.8,593.2Z" fill="rgb(158,158,158)"/><path d="M52.5,527.3 L76.6,486.1 L91.2,448.1 L131.4,450.5 L162.7,446 L205,464 L215.2,422.7 L279.5,383.8 L349.3,337.5 L401.3,376.6 L353.8,439.7 L305.5,455.9 L271.4,482.6 L278.2,540 L254.6,571.3 L208.1,585.2 L164,583.4 L93.2,561.4Z" fill="rgb(255,255,255)"/><path d="M238.7,559.2 L265.6,523.5 L309.1,493.5 L362.8,464.1 L458.9,420 L385.3,364.6Z" fill="rgb(255,255,255)"/><path d="M373.3,380.6 L467.4,255.8 L487.1,275.9 L515.8,316.7 L530.8,324.6 L543.1,340.7 L572.1,334.7 L610.1,321.4 L631.3,316.5 L663.7,319.8 L697.8,321.1 L712.8,328.9 L716.1,352.3 L700.5,354.5 L692,365.7 L730.6,370.2 L753.4,376.9 L740.6,384.7 L699.2,388.5 L668,392.9 L634.5,395.7 L601.6,402.3 L565.9,403.4 L527.3,398.9 L472.1,402.5 L417.9,414.2Z" fill="rgb(255,255,255)"/><path d="M326.2,345.1 L369.2,325 L369.6,264.2 L358.8,250.8 L382.3,219.6 L431.4,214.6 L493.4,254.5 L389.3,392.6Z" fill="rgb(247,247,247)"/><path d="M416.9,224.7 L446.4,208.6 L505.2,238.8 L483.3,267.8Z" fill="rgb(140,140,140)"/><path d="M443.1,213 L469.4,201.3 L502.8,226.5 L491,242.2Z" fill="rgb(56,56,56)"/></g>
<g filter="url(#b4)"><path d="M252.1,541.4 L281.2,521.4 L330.9,492.5 L389.1,466.3 L470.1,428.5 L490.1,443.6 L419.7,472 L363.8,499.8 L308,527.6 L277.7,553.7Z" fill="rgb(158,158,158)"/><path d="M346,486.4 L401.9,458.6 L474.5,431.8 L483.4,438.5 L413,467 L357.1,494.7Z" fill="rgb(115,115,115)"/><path d="M413.4,410.8 L445.8,400.3 L493.3,383.6 L529,396.6 L513.9,416.7 L479.2,425.5 L440.1,431Z" fill="rgb(158,158,158)"/><path d="M440.3,417 L472.1,402.5 L506.1,403.8 L478.2,417.7Z" fill="rgb(112,112,112)"/><path d="M565.8,431.2 L583.1,398.9 L630,392.3 L661.2,415.9 L641.7,432.6 L607.1,441.4Z" fill="rgb(163,163,163)"/><path d="M591.5,415.7 L607.7,403.5 L625,413 L608.2,421.3Z" fill="rgb(115,115,115)"/><path d="M621.1,385.7 L646.8,370.1 L697.1,359 L721.6,363.5 L691.5,375.7 L661.3,387.9Z" fill="rgb(191,191,191)"/><path d="M791.9,381.5 L801.6,336.3 L824.5,301.2 L863.6,309.7 L862.9,347.6 L829.3,392.3Z" fill="rgb(168,168,168)"/><path d="M781,303.4 L806.2,269.9 L848,284 L824.5,301.2Z" fill="rgb(51,51,51)"/><path d="M653.8,277.4 L672.8,256.8 L690.1,266.3 L673.9,278.5Z" fill="rgb(204,204,204)"/><path d="M628,306.9 L652.7,276.6 L680.5,297.6 L661.5,318.2Z" fill="rgb(97,97,97)"/><path d="M27.9,323.5 L45.8,288.1 L82.4,292.9 L94.9,318 L80.3,342.1 L51,339.2Z" fill="rgb(92,92,92)"/><path d="M141.5,295.6 L158.6,275.2 L188.8,249.1 L216.4,254.1 L225.4,260.8 L247.3,268.8 L260.2,270.3 L293.6,295.5 L271.3,311.2 L237.8,313.9 L204.9,306.6 L170.8,305.4Z" fill="rgb(140,140,140)"/><path d="M248.2,286.3 L262.7,262.3 L276.2,230.5 L320.3,218.3 L335.4,219.2 L345.1,238.7 L346.5,248.5 L310.7,263.6 L286.1,286.9 L279.4,309.8Z" fill="rgb(140,140,140)"/><path d="M310.9,179.8 L326,159.7 L397.4,199.5 L380.6,221.8Z" fill="rgb(255,255,255)"/><path d="M351.2,239.9 L366.3,219.8 L388.6,236.6 L373.5,256.7Z" fill="rgb(199,199,199)"/></g>
</g></g>
<g transform="rotate(53 380 380)"><g filter="url(#cfw)">
<rect x="-180" y="-180" width="1120" height="1120" fill="#000"/>
<path d="M-35.1,541.6 L-33.9,507.6 L-10.4,462.4 L21.5,434 L44.9,444.7 L34.7,485.9 L17.3,518.3 L-8.3,533.9 L-19.5,553.4Z" fill="#fff" fill-opacity="0.72"/>
<path d="M-88.7,501.3 L-75.2,483.5 L-26.2,520.4 L-35.1,541.6Z" fill="#fff" fill-opacity="0.45"/>
<path d="M14,522.8 L34.7,485.9 L44.9,444.7 L91.2,448.1 L131.4,450.5 L162.7,446 L205,464 L215.2,422.7 L279.5,383.8 L349.3,337.5 L378.3,359.3 L332.4,406.3 L287.7,442.5 L265.3,495.4 L278.2,540 L244.6,584.6 L191.4,593.5 L128.3,584.4 L69.2,546.9Z" fill="#fff" fill-opacity="0.5"/>
<path d="M337.3,353.4 L439.6,325.8 L427.9,302.9 L404.4,264.3 L370.4,263.1 L369.2,325Z" fill="#fff" fill-opacity="0.45"/>
<path d="M373.3,380.6 L447.2,282.5 L498.5,307.1 L502.3,362.5 L454.3,389.1 L406.8,405.8Z" fill="#fff" fill-opacity="0.45"/>
<path d="M601.1,356.6 L615.6,346.5 L670.3,338.8 L699.4,346.7 L694.9,357.3 L650.2,365.6Z" fill="#fff" fill-opacity="0.75"/>
<path d="M351.3,595.2 L390.6,520 L519.1,465.4 L692,595.7 L619.3,692.3 L501.9,673.7 L450.6,649.1Z" fill="#fff" fill-opacity="0.38"/>
<path d="M507.1,481.4 L532.3,447.9 L629.8,504 L705.2,578.2 L680,611.7Z" fill="#fff" fill-opacity="0.4"/>
<path d="M248.2,286.3 L262.7,262.3 L276.2,230.5 L320.3,218.3 L335.4,219.2 L345.1,238.7 L310.7,263.6 L279.4,309.8Z" fill="#fff" fill-opacity="0.4"/>
<path d="M34,324.7 L44.1,290.3 L81.5,294.1 L94.9,318 L80.3,342.1 L51,339.2Z" fill="#fff" fill-opacity="0.38"/>
</g></g>
<g transform="rotate(53 380 380)"><g filter="url(#cf2)">
<rect x="-180" y="-180" width="1120" height="1120" fill="#000"/>
<path d="M41.5,449.1 L33.2,418.5 L42.2,383.3 L57.9,353.1 L99.3,335.4 L120.6,316.5 L152.4,309 L188.6,304.9 L221.6,312.2 L255.6,313.4 L284.7,307.3 L295.8,297.1 L349.3,337.5 L322.5,363.8 L279.5,383.8 L240.9,407.2 L215.2,422.7 L220.1,444 L205,464 L181.6,467.3 L162.7,446 L131.4,450.5 L91.2,448.1 L64.4,455.8Z" fill="#fff" fill-opacity="0.8"/>
<path d="M283.8,313.1 L303.9,293.4 L326.3,268.3 L348.4,262.3 L369.6,264.2 L370.4,291 L369.2,325 L367.4,355.2 L337.3,353.4Z" fill="#fff" fill-opacity="0.85"/>
<path d="M56,467 L91.2,448.1 L131.4,450.5 L162.7,446 L181.6,467.3 L155.9,482.8 L107.9,481.6Z" fill="#fff" fill-opacity="0.45"/>
<path d="M14.3,411 L33.3,376.6 L57.9,353.1 L42.2,383.3 L33.2,418.5Z" fill="#fff" fill-opacity="0.5"/>
<path d="M141.5,295.6 L158.6,275.2 L188.8,249.1 L216.4,254.1 L225.4,260.8 L247.3,268.8 L260.2,270.3 L293.6,295.5 L271.3,311.2 L237.8,313.9 L204.9,306.6 L170.8,305.4Z" fill="#fff" fill-opacity="0.45"/>
<path d="M248.2,286.3 L262.7,262.3 L276.2,230.5 L320.3,218.3 L335.4,219.2 L345.1,238.7 L346.5,248.5 L310.7,263.6 L286.1,286.9 L279.4,309.8Z" fill="#fff" fill-opacity="0.42"/>
<path d="M337.3,353.4 L367.4,355.2 L384.8,336.8 L439.6,325.8 L389.3,392.6Z" fill="#fff" fill-opacity="0.55"/>
<path d="M373.3,380.6 L423.7,313.7 L481.8,308.6 L484.5,349 L451.4,369.6 L395.6,397.4Z" fill="#fff" fill-opacity="0.45"/>
<path d="M481.8,308.6 L497.5,278.4 L532.1,255.6 L532.1,290.5 L523.5,315.6 L496.8,309.4Z" fill="#fff" fill-opacity="0.8"/>
<path d="M-20.7,559.5 L9,515.5 L26.3,525 L37.4,547.3 L27.3,574.7 L15,586.4Z" fill="#fff" fill-opacity="0.9"/>
<path d="M144.6,684.1 L220.2,583.8 L272.1,584.5 L287,634.1 L336.7,661 L376.9,635.5 L450.6,649.1 L489.7,643.6 L485.1,696 L490.6,735.1 L462.7,749 L412.4,746.1 L378.4,744.9 L317,733.6 L204.8,729.4Z" fill="#fff" fill-opacity="0.7"/>
<path d="M108.6,656.9 L145,631.9 L192.4,615.3 L236.2,595.8 L160.6,696.1Z" fill="#fff" fill-opacity="0.6"/>
<path d="M462.7,749 L490.6,735.1 L495.2,682.6 L518.7,651.4 L557.8,645.9 L563.2,685 L529.7,729.6 L552.1,781.4 L545.3,790.3 L496.1,774.1Z" fill="#fff" fill-opacity="0.5"/>
<path d="M351.3,595.2 L390.6,520 L519.1,465.4 L692,595.7 L619.3,692.3 L501.9,673.7 L450.6,649.1Z" fill="#fff" fill-opacity="0.33"/>
</g></g>
<g transform="rotate(53 380 380)"><g filter="url(#cfw2)">
<rect x="-180" y="-180" width="1120" height="1120" fill="#000"/>
<path d="M-1.4,441.2 L53.5,349.8 L116.1,313.1 L198.7,305.5 L295.8,297.1 L349.3,337.5 L279.5,383.8 L215.2,422.7 L205,464 L131.4,450.5 L64.4,455.8Z" fill="#fff" fill-opacity="0.36"/>
<path d="M144.6,684.1 L220.2,583.8 L272.1,584.5 L287,634.1 L336.7,661 L376.9,635.5 L450.6,649.1 L490.6,735.1 L378.4,744.9 L204.8,729.4Z" fill="#fff" fill-opacity="0.3"/>
</g></g>
<g transform="rotate(53 380 380)"><g filter="url(#cfr)">
<rect x="-180" y="-180" width="1120" height="1120" fill="#000"/>
<path d="M50.5,455.9 L83.5,393.4 L165.1,350.1 L282.4,333.6 L338.2,329.1 L279.5,383.8 L215.2,422.7 L205,464 L131.4,450.5 L84.5,457.1Z" fill="#fff" fill-opacity="0.37"/>
<path d="M292.7,319.9 L354.3,261.4 L370.4,263.1 L369.2,325 L348.5,361.9Z" fill="#fff" fill-opacity="0.36"/>
</g></g>
</g>
<path d="M123.9,75.9 L133.7,87.1 L139.2,99.7 L141.2,103.3" fill="none" stroke="#4a5a4a" stroke-width="7.5" stroke-linejoin="round"/>
<path d="M123.9,75.9 L133.7,87.1 L139.2,99.7 L141.2,103.3" fill="none" stroke="#fff" stroke-width="3" stroke-linejoin="round"/>
<path d="M466.2,302 L445.3,318.8 L417.4,338.3 L392.2,355 L383.9,349.5" fill="none" stroke="#4a5a4a" stroke-width="7.5" stroke-linejoin="round"/>
<path d="M466.2,302 L445.3,318.8 L417.4,338.3 L392.2,355 L383.9,349.5" fill="none" stroke="#fff" stroke-width="3" stroke-linejoin="round"/>
<use href="#coast" fill="none" stroke="#4a5a4a" stroke-width="1.8" stroke-linejoin="round"/>
</g>
<rect x="0" y="0" width="760" height="760" fill="none" stroke="#9a9a9a" stroke-width="2.4"/>
</g>
<g transform="translate(203.5,1892.5) scale(1.0000)">
<g clip-path="url(#box)">
<g clip-path="url(#land)">
<g transform="rotate(53 380 380)"><g filter="url(#cm_d)">
<rect x="-180" y="-180" width="1120" height="1120" fill="rgb(19,19,19)"/>
<g filter="url(#b30)"><path d="M-158.9,455.4 L-52.2,313.8 L77.7,364.6 L109.8,456 L331.2,447.9 L296.5,529.5 L147.1,585 L55.6,617Z" fill="rgb(29,29,29)"/><path d="M15.7,223.7 L132.2,69.2 L306.1,133 L207,192.9Z" fill="rgb(26,26,26)"/><path d="M151.5,43.4 L206.5,-29.5 L390.2,-5.5 L384.6,91.2 L306.1,133 L227.7,121Z" fill="rgb(11,11,11)"/><path d="M365.5,473.7 L486,403.2 L636.5,381.9 L722.3,446.6 L657.6,532.5 L507.1,553.6 L382.6,540.4Z" fill="rgb(14,14,14)"/><path d="M625.9,306.7 L733.6,163.8 L919.5,303.8 L811.7,446.8Z" fill="rgb(10,10,10)"/><path d="M366,258.9 L437.1,164.5 L497.2,209.7 L507.7,284.9 L458.2,314.9Z" fill="rgb(23,23,23)"/></g>
<g filter="url(#b12)"><path d="M62.2,554.8 L102.2,483.9 L200.1,443.3 L288.2,415.5 L367.8,381.4 L365.6,420 L305.3,482.3 L256.8,546.6 L174,585.1Z" fill="rgb(38,38,38)"/><path d="M287,488.6 L402.2,407.2 L585,343.2 L749.4,366.1 L737.5,390.8 L561.3,392.5 L407.5,444.9 L308.5,504.8Z" fill="rgb(29,29,29)"/></g>
<g filter="url(#b5)"><path d="M92.1,539.7 L107.8,509.6 L144.7,516.3 L139.1,547Z" fill="rgb(54,54,54)"/><path d="M113.9,566.5 L121.1,547.6 L153,533.1 L209.4,523.2 L248.4,531.7 L245.1,550.1 L218.2,571.8 L179.2,577.2 L141.2,576.7Z" fill="rgb(87,87,87)"/><path d="M187.2,478.5 L209.6,453.4 L248.7,447.9 L283.3,439.1 L305.6,441.9 L297.1,467.1 L268.6,490.9 L229.6,496.4Z" fill="rgb(87,87,87)"/><path d="M267.6,455.2 L293.3,411.7 L340.8,395.1 L359.8,416.3 L325.2,453.1 L294.9,465.4Z" fill="rgb(76,76,76)"/><path d="M434.7,310.6 L471.3,270.8 L504.5,289.2 L475.4,327.8Z" fill="rgb(69,69,69)"/><path d="M558.1,356.5 L575.9,332.9 L635,330.4 L702.7,347.7 L699.4,365.5 L640.3,368.1 L579,369Z" fill="rgb(82,82,82)"/><path d="M606.5,332.5 L617.8,317.4 L689.3,320.8 L687.1,332.7Z" fill="rgb(66,66,66)"/></g>
<g filter="url(#b3)"><path d="M132.8,559.8 L152.4,543.2 L194.8,533.2 L219.4,537.7 L211.6,552.8 L179.1,563.3 L149.6,565.5Z" fill="rgb(163,163,163)"/><path d="M205,477.9 L220.7,461.8 L251.9,457.4 L270.9,464.7 L261.4,482 L232.3,488.1Z" fill="rgb(163,163,163)"/><path d="M588.2,352.3 L595.3,342.9 L646.2,342.2 L694.2,350.1 L694.4,360.4 L645.8,360.7 L599.8,359.1Z" fill="rgb(173,173,173)"/><path d="M678.5,353 L687.7,345.2 L701.1,349.9 L697.4,361.9Z" fill="rgb(242,242,242)"/></g>
</g></g>
<g transform="rotate(53 380 380)"><g filter="url(#cf1)">
<rect x="-180" y="-180" width="1120" height="1120" fill="#000"/>
<path d="M23.8,471.9 L17.4,413.3 L34.8,372.5 L81,346.9 L84.1,382.8 L102.3,430.2 L122.6,465.7 L153.8,469 L224.1,518.6 L179.4,542.1 L98.9,515Z" fill="#fff" fill-opacity="0.5"/>
<path d="M84.1,382.8 L81,346.9 L140.3,304 L167.1,290.6 L211.2,303.6 L256.3,297.3 L305.8,267.3 L345.6,250.2 L364.4,261 L374.5,292.2 L372.2,330.8 L346.4,365.2 L309.9,378 L273.3,390.9 L238.2,414.9 L230.2,412.3 L194.7,459.5 L241.9,495 L224.1,518.6 L153.8,469 L122.6,465.7 L102.3,430.2Z" fill="#fff" fill-opacity="0.8"/>
<path d="M243.1,421.9 L346.4,365.2 L372.2,330.8 L387.2,355.6 L393.6,400.7 L335.5,424.2 L281.7,451Z" fill="#fff" fill-opacity="0.45"/>
<path d="M200.4,465.1 L234.5,415.4 L279.1,445.7 L244.7,495.8Z" fill="#000" fill-opacity="0.95"/>
<path d="M346.4,365.2 L378.8,268.6 L439.1,233.2 L503.5,254.8 L516.3,318.3 L496.8,370.9 L436.6,379.3 L383,379.2Z" fill="#fff" fill-opacity="0.42"/>
<path d="M140.2,290.6 L187.6,245.5 L224.2,259.6 L271.4,241.5 L318.8,223.3 L340.2,239.4 L305.8,267.3 L256.3,297.3 L211.2,303.6 L167.1,290.6Z" fill="#fff" fill-opacity="0.42"/>
<path d="M482.5,309.6 L497,276.9 L525,257.6 L524.9,297.9 L516.3,318.3Z" fill="#fff" fill-opacity="0.7"/>
<path d="M-19.4,560.5 L0.2,528.2 L25.1,541.6 L30.9,571.4 L14.9,586.3Z" fill="#fff" fill-opacity="0.95"/>
<path d="M42.8,607.3 L103.1,572 L238.5,553 L291.1,572.4 L242.6,636.8 L156.6,652.8 L137.2,678.5Z" fill="#fff" fill-opacity="0.43"/>
<path d="M137.2,678.5 L242.6,636.8 L291.1,572.4 L363.2,566.2 L370.5,632.3 L336.1,673.6 L312.2,723 L246.7,720.7 L197.3,723.8Z" fill="#fff" fill-opacity="0.25"/>
<path d="M137.2,678.5 L156.6,652.8 L214.7,656.1 L238.2,687.3 L197.3,723.8Z" fill="#fff" fill-opacity="0.75"/>
<path d="M238.2,687.3 L262,637.9 L305,643.4 L324.2,671.4 L312.2,723 L246.7,720.7Z" fill="#fff" fill-opacity="0.72"/>
<path d="M336.1,673.6 L370.5,632.3 L412.3,643.7 L410.1,682.3 L373.6,695.1Z" fill="#fff" fill-opacity="0.75"/>
<path d="M312.2,723 L341.4,684.3 L410.1,709.2 L462.8,701.8 L513.3,679.3 L563.8,683.8 L622.9,694.6 L551.7,789 L464.7,770.5 L389.6,754.3Z" fill="#fff" fill-opacity="0.68"/>
<path d="M291.1,572.4 L363.2,566.2 L415.8,585.6 L455.4,622.3 L508,641.8 L580.1,635.4 L661.7,643.1 L622.9,694.6 L563.8,683.8 L513.3,679.3 L462.8,701.8 L412.3,643.7 L370.5,632.3 L305,643.4 L262,637.9Z" fill="#fff" fill-opacity="0.45"/>
<path d="M363.2,566.2 L451.3,538.4 L520.1,536.4 L623.2,533.5 L713.4,574.5 L661.7,643.1 L580.1,635.4 L508,641.8 L455.4,622.3 L415.8,585.6Z" fill="#fff" fill-opacity="0.37"/>
<path d="M366.4,561.9 L399.8,499.6 L516,452.6 L606.2,466.8 L623.2,533.5 L520.1,536.4 L451.3,538.4Z" fill="#fff" fill-opacity="0.34"/>
</g></g>
</g>
<path d="M123.9,75.9 L133.7,87.1 L139.2,99.7 L141.2,103.3" fill="none" stroke="#3c3c3c" stroke-width="7.5" stroke-linejoin="round"/>
<path d="M123.9,75.9 L133.7,87.1 L139.2,99.7 L141.2,103.3" fill="none" stroke="#fff" stroke-width="3" stroke-linejoin="round"/>
<path d="M466.2,302 L445.3,318.8 L417.4,338.3 L392.2,355 L383.9,349.5" fill="none" stroke="#3c3c3c" stroke-width="7.5" stroke-linejoin="round"/>
<path d="M466.2,302 L445.3,318.8 L417.4,338.3 L392.2,355 L383.9,349.5" fill="none" stroke="#fff" stroke-width="3" stroke-linejoin="round"/>
<use href="#coast" fill="none" stroke="#3c3c3c" stroke-width="2.6" stroke-linejoin="round"/>
</g>
</g>
<path fill-rule="evenodd" fill="#8a8a8a" d="M202.6,1891.2H971V2659.2H202.6ZM208.79999999999998,1900.2H964.4V2653.2H208.79999999999998Z"/>
<g transform="translate(1004.5,1895) scale(0.9993)">
<g clip-path="url(#box)">
<g clip-path="url(#land)">
<g transform="rotate(53 380 380)"><g filter="url(#cm_dp)">
<rect x="-180" y="-180" width="1120" height="1120" fill="rgb(0,0,0)"/>
<g filter="url(#b20)"><path d="M286,481 L337.7,425.9 L451.7,377.3 L593.6,349.6 L700,342.4 L778.4,354.3 L754.6,403.8 L663.3,435.8 L537.4,441.9 L410.6,467.4 L330,494.1Z" fill="rgb(15,15,15)"/><path d="M684.7,451.9 L781.7,323.2 L875.1,359.9 L745.8,531.5Z" fill="rgb(10,10,10)"/></g>
<g filter="url(#b4)"><path d="M680,391.2 L668.8,352.5 L686.7,288.6 L698.4,344.5 L751,363.9 L696.1,360.9Z" fill="rgb(33,33,33)"/><path d="M644.1,354 L662.4,334.2 L703.2,338.1 L715.6,357.4 L688.2,367Z" fill="rgb(33,33,33)"/><path d="M650.1,355.1 L658.6,339.4 L695.7,339.1 L711,352.7 L697.1,362.4Z" fill="rgb(66,66,66)"/></g>
</g></g>
<g filter="url(#b2)"><path d="M571.5,587.1 L580.1,586 L597.3,612.9 L593,621.5 L582.2,612.9Z" fill="#e6efe6"/></g>
<path d="M715.5,763.3 L720.9,731.1 L747.7,715 L765.5,720.4 L765.5,763.3Z" fill="#5040a8"/>
<g transform="rotate(53 380 380)"><g filter="url(#cf1)">
<rect x="-180" y="-180" width="1120" height="1120" fill="#000"/>
<path d="M23.8,471.9 L17.4,413.3 L34.8,372.5 L81,346.9 L84.1,382.8 L102.3,430.2 L122.6,465.7 L153.8,469 L224.1,518.6 L179.4,542.1 L98.9,515Z" fill="#fff" fill-opacity="0.5"/>
<path d="M84.1,382.8 L81,346.9 L140.3,304 L167.1,290.6 L211.2,303.6 L256.3,297.3 L305.8,267.3 L345.6,250.2 L364.4,261 L374.5,292.2 L372.2,330.8 L346.4,365.2 L309.9,378 L273.3,390.9 L238.2,414.9 L230.2,412.3 L194.7,459.5 L241.9,495 L224.1,518.6 L153.8,469 L122.6,465.7 L102.3,430.2Z" fill="#fff" fill-opacity="0.8"/>
<path d="M243.1,421.9 L346.4,365.2 L372.2,330.8 L387.2,355.6 L393.6,400.7 L335.5,424.2 L281.7,451Z" fill="#fff" fill-opacity="0.45"/>
<path d="M200.4,465.1 L234.5,415.4 L279.1,445.7 L244.7,495.8Z" fill="#000" fill-opacity="0.95"/>
<path d="M346.4,365.2 L378.8,268.6 L439.1,233.2 L503.5,254.8 L516.3,318.3 L496.8,370.9 L436.6,379.3 L383,379.2Z" fill="#fff" fill-opacity="0.42"/>
<path d="M140.2,290.6 L187.6,245.5 L224.2,259.6 L271.4,241.5 L318.8,223.3 L340.2,239.4 L305.8,267.3 L256.3,297.3 L211.2,303.6 L167.1,290.6Z" fill="#fff" fill-opacity="0.42"/>
<path d="M482.5,309.6 L497,276.9 L525,257.6 L524.9,297.9 L516.3,318.3Z" fill="#fff" fill-opacity="0.7"/>
<path d="M-19.4,560.5 L0.2,528.2 L25.1,541.6 L30.9,571.4 L14.9,586.3Z" fill="#fff" fill-opacity="0.95"/>
<path d="M42.8,607.3 L103.1,572 L238.5,553 L291.1,572.4 L242.6,636.8 L156.6,652.8 L137.2,678.5Z" fill="#fff" fill-opacity="0.43"/>
<path d="M137.2,678.5 L242.6,636.8 L291.1,572.4 L363.2,566.2 L370.5,632.3 L336.1,673.6 L312.2,723 L246.7,720.7 L197.3,723.8Z" fill="#fff" fill-opacity="0.25"/>
<path d="M137.2,678.5 L156.6,652.8 L214.7,656.1 L238.2,687.3 L197.3,723.8Z" fill="#fff" fill-opacity="0.75"/>
<path d="M238.2,687.3 L262,637.9 L305,643.4 L324.2,671.4 L312.2,723 L246.7,720.7Z" fill="#fff" fill-opacity="0.72"/>
<path d="M336.1,673.6 L370.5,632.3 L412.3,643.7 L410.1,682.3 L373.6,695.1Z" fill="#fff" fill-opacity="0.75"/>
<path d="M312.2,723 L341.4,684.3 L410.1,709.2 L462.8,701.8 L513.3,679.3 L563.8,683.8 L622.9,694.6 L551.7,789 L464.7,770.5 L389.6,754.3Z" fill="#fff" fill-opacity="0.68"/>
<path d="M291.1,572.4 L363.2,566.2 L415.8,585.6 L455.4,622.3 L508,641.8 L580.1,635.4 L661.7,643.1 L622.9,694.6 L563.8,683.8 L513.3,679.3 L462.8,701.8 L412.3,643.7 L370.5,632.3 L305,643.4 L262,637.9Z" fill="#fff" fill-opacity="0.45"/>
<path d="M363.2,566.2 L451.3,538.4 L520.1,536.4 L623.2,533.5 L713.4,574.5 L661.7,643.1 L580.1,635.4 L508,641.8 L455.4,622.3 L415.8,585.6Z" fill="#fff" fill-opacity="0.37"/>
<path d="M366.4,561.9 L399.8,499.6 L516,452.6 L606.2,466.8 L623.2,533.5 L520.1,536.4 L451.3,538.4Z" fill="#fff" fill-opacity="0.34"/>
</g></g>
</g>
<path d="M123.9,75.9 L133.7,87.1 L139.2,99.7 L141.2,103.3" fill="none" stroke="#3c3c3c" stroke-width="7.5" stroke-linejoin="round"/>
<path d="M123.9,75.9 L133.7,87.1 L139.2,99.7 L141.2,103.3" fill="none" stroke="#fff" stroke-width="3" stroke-linejoin="round"/>
<path d="M466.2,302 L445.3,318.8 L417.4,338.3 L392.2,355 L383.9,349.5" fill="none" stroke="#3c3c3c" stroke-width="7.5" stroke-linejoin="round"/>
<path d="M466.2,302 L445.3,318.8 L417.4,338.3 L392.2,355 L383.9,349.5" fill="none" stroke="#fff" stroke-width="3" stroke-linejoin="round"/>
<use href="#coast" fill="none" stroke="#3c3c3c" stroke-width="2.6" stroke-linejoin="round"/>
</g>
<rect x="0" y="0" width="760" height="760" fill="none" stroke="#858585" stroke-width="2"/>
</g>
<g transform="translate(204.5,2780) scale(1.0007)">
<g clip-path="url(#box)">
<g clip-path="url(#land)">
<g transform="rotate(53 380 380)"><g filter="url(#cm_e)">
<rect x="-180" y="-180" width="1120" height="1120" fill="rgb(32,32,32)"/>
<g filter="url(#b12)"><path d="M-158.9,455.4 L-123.6,408.6 L-81.7,422.6 L-62.9,457.8 L-68.5,488.5 L-85.3,510.8Z" fill="rgb(97,97,97)"/><path d="M-95.2,440.5 L-63.4,412 L-16.4,405.4 L5.3,432.3 L-14.9,459.1 L-51.7,466.2Z" fill="rgb(33,33,33)"/><path d="M-51.2,377.5 L-26.8,345.1 L42.3,341.4 L58.7,352 L35.5,392.1 L-1.3,399.3Z" fill="rgb(76,76,76)"/><path d="M-27,373.1 L-4.6,348 L30.6,357 L26.7,385.5 L-3,387.6Z" fill="rgb(33,33,33)"/><path d="M-85.3,510.8 L-58.4,461.2 L7.5,434 L51.1,417.9 L81.2,461.5 L104.4,514.1 L83.8,550.8 L41.7,606.6Z" fill="rgb(110,110,110)"/><path d="M4.5,526 L29.7,492.6 L64.3,511.7 L39,545.2Z" fill="rgb(74,74,74)"/><path d="M41.7,606.6 L83.8,550.8 L130.6,558.2 L190.3,571.7 L181.2,606.9 L103.1,617.9 L86.3,640.1Z" fill="rgb(36,36,36)"/><path d="M7.5,434 L57.9,353.1 L120.6,316.5 L295.8,297.1 L401.3,376.6 L298.8,450.8 L181.6,467.3 L81.2,461.5Z" fill="rgb(153,153,153)"/><path d="M80.9,531.3 L103.5,478.3 L170.4,458.9 L265.5,425.7 L360.5,345.9 L393.9,371.1 L345.3,450.9 L287.5,512.2 L246.8,533.9 L195.4,565 L130.6,558.2Z" fill="rgb(163,163,163)"/><path d="M144.6,684.1 L228.6,572.6 L323.6,539.3 L496.7,448.6 L692,595.7 L548.7,785.9 L373.3,751.6 L204.8,729.4Z" fill="rgb(76,76,76)"/><path d="M285.5,580.5 L316.8,548.3 L360.4,574.1 L336.8,605.3Z" fill="rgb(33,33,33)"/><path d="M285.7,510.8 L325.9,471.2 L382.4,461.3 L368.3,503.2 L320.8,519.8Z" fill="rgb(33,33,33)"/><path d="M404.6,478.1 L463.4,423.4 L523.5,468.7 L488.4,506.2Z" fill="rgb(33,33,33)"/><path d="M466.3,618.9 L507.7,573.3 L546.7,595.6 L513.1,640.2Z" fill="rgb(36,36,36)"/><path d="M368.1,572.9 L523.5,468.7 L568.1,502.4 L490.9,595.6 L416.1,602.1Z" fill="rgb(107,107,107)"/><path d="M466,758.4 L507.4,712.8 L578.9,745.8 L545.3,790.3Z" fill="rgb(128,128,128)"/><path d="M468.3,718.3 L518.7,651.4 L636,670 L585.7,736.8Z" fill="rgb(41,41,41)"/><path d="M406.8,405.8 L468.2,347.3 L535.7,387.7 L571.4,442.4 L529.4,498.2Z" fill="rgb(69,69,69)"/><path d="M507.1,481.4 L549.1,425.6 L646.6,481.7 L722,555.9 L680,611.7Z" fill="rgb(89,89,89)"/><path d="M398.5,347.1 L467.4,255.8 L523.1,297.8 L479.4,355.7Z" fill="rgb(173,173,173)"/><path d="M451.4,369.6 L508.5,307.8 L556.5,336.9 L538.5,365.4 L500,388.7Z" fill="rgb(128,128,128)"/><path d="M358.8,250.8 L382.3,219.6 L469.4,201.3 L510.2,232.1 L439.6,325.8Z" fill="rgb(84,84,84)"/><path d="M69.8,151.9 L95,118.4 L203.8,113.1 L278.6,134.5 L261.8,156.8 L205.9,184.6 L136.7,202.3Z" fill="rgb(82,82,82)"/><path d="M95,118.4 L145.4,51.6 L241.9,85.9 L316.6,121.2 L316.6,149.1 L257.5,125.5 L192.1,128.7Z" fill="rgb(107,107,107)"/><path d="M11.6,229.1 L81.9,135.9 L155.4,191.3 L111.3,208.2 L49.9,224.7Z" fill="rgb(71,71,71)"/><path d="M440.1,431 L496,403.2 L535.7,387.7 L598.8,382.7 L691.5,375.7 L791.9,381.5 L847.9,388.8 L743.8,526.9 L691.1,515.3 L651.6,475 L606.4,465.4 L579.7,431.3 L509.9,431.1 L473.6,456.2Z" fill="rgb(32,32,32)"/></g>
<g filter="url(#b6)"><path d="M285.3,510.5 L328.5,473.2 L401.3,376.6Z" fill="rgb(51,51,51)"/><path d="M275.6,510.2 L325.9,471.2 L458.9,420 L510.2,458.7 L435.3,483.8 L368.3,503.2 L296.8,519.2Z" fill="rgb(33,33,33)"/><path d="M126.7,558.8 L143.5,536.5 L198.2,528.7 L200.4,544.4 L164.7,559.4Z" fill="rgb(219,219,219)"/><path d="M206,513.7 L246.9,464.1 L269.8,470.9 L236.2,515.5Z" fill="rgb(209,209,209)"/><path d="M192.8,475.7 L234.7,420.1 L269.8,443 L236.2,487.5Z" fill="rgb(115,115,115)"/><path d="M211.2,465.1 L224.6,447.3 L238,457.4 L226.3,473Z" fill="rgb(64,64,64)"/><path d="M533.5,386 L539.7,359.2 L572.1,334.7 L612.3,323.1 L643.6,318.7 L681.5,333.3 L705.5,347.8 L696,365.2 L659.1,372.3 L616.7,382.3 L574.2,392.3Z" fill="rgb(128,128,128)"/><path d="M678.6,383.5 L687,372.3 L723.8,379.2 L719.4,389.7Z" fill="rgb(107,107,107)"/></g>
<g filter="url(#b4)"><path d="M560.3,364.2 L575.4,344.2 L623.4,345.4 L673.7,348.4 L699.9,350.6 L697.6,362.9 L662.5,367.9 L621.2,371.7 L585.5,372.7Z" fill="rgb(184,184,184)"/><path d="M680.9,357.3 L693.2,345.6 L704.1,352 L697.3,364.4Z" fill="rgb(255,255,255)"/><path d="M353.9,201.7 L364.2,183.3 L393.5,200.1 L375.6,214.5Z" fill="rgb(140,140,140)"/><path d="M29.6,321.3 L44.1,290.3 L81.5,294.1 L94.9,318 L80.3,342.1 L51,339.2Z" fill="rgb(102,102,102)"/></g>
</g></g>
<path d="M576.5,595.5 L587.6,595.5 L598.8,612.2 L590.4,617.8Z" fill="#c8c4c4"/>
<g transform="rotate(53 380 380)"><g filter="url(#cf1)">
<rect x="-180" y="-180" width="1120" height="1120" fill="#000"/>
<path d="M23.8,471.9 L17.4,413.3 L34.8,372.5 L81,346.9 L84.1,382.8 L102.3,430.2 L122.6,465.7 L153.8,469 L224.1,518.6 L179.4,542.1 L98.9,515Z" fill="#fff" fill-opacity="0.5"/>
<path d="M84.1,382.8 L81,346.9 L140.3,304 L167.1,290.6 L211.2,303.6 L256.3,297.3 L305.8,267.3 L345.6,250.2 L364.4,261 L374.5,292.2 L372.2,330.8 L346.4,365.2 L309.9,378 L273.3,390.9 L238.2,414.9 L230.2,412.3 L194.7,459.5 L241.9,495 L224.1,518.6 L153.8,469 L122.6,465.7 L102.3,430.2Z" fill="#fff" fill-opacity="0.8"/>
<path d="M243.1,421.9 L346.4,365.2 L372.2,330.8 L387.2,355.6 L393.6,400.7 L335.5,424.2 L281.7,451Z" fill="#fff" fill-opacity="0.45"/>
<path d="M200.4,465.1 L234.5,415.4 L279.1,445.7 L244.7,495.8Z" fill="#000" fill-opacity="0.95"/>
<path d="M346.4,365.2 L378.8,268.6 L439.1,233.2 L503.5,254.8 L516.3,318.3 L496.8,370.9 L436.6,379.3 L383,379.2Z" fill="#fff" fill-opacity="0.42"/>
<path d="M140.2,290.6 L187.6,245.5 L224.2,259.6 L271.4,241.5 L318.8,223.3 L340.2,239.4 L305.8,267.3 L256.3,297.3 L211.2,303.6 L167.1,290.6Z" fill="#fff" fill-opacity="0.42"/>
<path d="M482.5,309.6 L497,276.9 L525,257.6 L524.9,297.9 L516.3,318.3Z" fill="#fff" fill-opacity="0.7"/>
<path d="M-19.4,560.5 L0.2,528.2 L25.1,541.6 L30.9,571.4 L14.9,586.3Z" fill="#fff" fill-opacity="0.95"/>
<path d="M42.8,607.3 L103.1,572 L238.5,553 L291.1,572.4 L242.6,636.8 L156.6,652.8 L137.2,678.5Z" fill="#fff" fill-opacity="0.43"/>
<path d="M137.2,678.5 L242.6,636.8 L291.1,572.4 L363.2,566.2 L370.5,632.3 L336.1,673.6 L312.2,723 L246.7,720.7 L197.3,723.8Z" fill="#fff" fill-opacity="0.25"/>
<path d="M137.2,678.5 L156.6,652.8 L214.7,656.1 L238.2,687.3 L197.3,723.8Z" fill="#fff" fill-opacity="0.75"/>
<path d="M238.2,687.3 L262,637.9 L305,643.4 L324.2,671.4 L312.2,723 L246.7,720.7Z" fill="#fff" fill-opacity="0.72"/>
<path d="M336.1,673.6 L370.5,632.3 L412.3,643.7 L410.1,682.3 L373.6,695.1Z" fill="#fff" fill-opacity="0.75"/>
<path d="M312.2,723 L341.4,684.3 L410.1,709.2 L462.8,701.8 L513.3,679.3 L563.8,683.8 L622.9,694.6 L551.7,789 L464.7,770.5 L389.6,754.3Z" fill="#fff" fill-opacity="0.68"/>
<path d="M291.1,572.4 L363.2,566.2 L415.8,585.6 L455.4,622.3 L508,641.8 L580.1,635.4 L661.7,643.1 L622.9,694.6 L563.8,683.8 L513.3,679.3 L462.8,701.8 L412.3,643.7 L370.5,632.3 L305,643.4 L262,637.9Z" fill="#fff" fill-opacity="0.45"/>
<path d="M363.2,566.2 L451.3,538.4 L520.1,536.4 L623.2,533.5 L713.4,574.5 L661.7,643.1 L580.1,635.4 L508,641.8 L455.4,622.3 L415.8,585.6Z" fill="#fff" fill-opacity="0.37"/>
<path d="M366.4,561.9 L399.8,499.6 L516,452.6 L606.2,466.8 L623.2,533.5 L520.1,536.4 L451.3,538.4Z" fill="#fff" fill-opacity="0.34"/>
</g></g>
</g>
<path d="M123.9,75.9 L133.7,87.1 L139.2,99.7 L141.2,103.3" fill="none" stroke="#3c3c3c" stroke-width="7.5" stroke-linejoin="round"/>
<path d="M123.9,75.9 L133.7,87.1 L139.2,99.7 L141.2,103.3" fill="none" stroke="#fff" stroke-width="3" stroke-linejoin="round"/>
<path d="M466.2,302 L445.3,318.8 L417.4,338.3 L392.2,355 L383.9,349.5" fill="none" stroke="#3c3c3c" stroke-width="7.5" stroke-linejoin="round"/>
<path d="M466.2,302 L445.3,318.8 L417.4,338.3 L392.2,355 L383.9,349.5" fill="none" stroke="#fff" stroke-width="3" stroke-linejoin="round"/>
<use href="#coast" fill="none" stroke="#3c3c3c" stroke-width="2.6" stroke-linejoin="round"/>
</g>
<rect x="0" y="0" width="760" height="760" fill="none" stroke="#858585" stroke-width="2"/>
</g>
<g transform="translate(997.5,2782.5) scale(1.0007)">
<g clip-path="url(#box)">
<g clip-path="url(#land)">
<g transform="rotate(53 380 380)"><g filter="url(#cm_ep)">
<rect x="-180" y="-180" width="1120" height="1120" fill="rgb(43,43,43)"/>
<g filter="url(#b30)"><path d="M-158.9,455.4 L-52.2,313.8 L12.2,362.3 L17.4,453.6 L-19.3,493.3 L-30.1,552.4Z" fill="rgb(34,34,34)"/><path d="M-10.8,526.7 L13.1,450.3 L157.2,411 L288.2,415.5 L335.4,478 L320.2,533.8 L247.1,559.5 L129.9,572.1Z" fill="rgb(69,69,69)"/><path d="M177.3,62.8 L215,-23 L374,16 L367.4,78.3 L306.1,133 L227.7,121Z" fill="rgb(10,10,10)"/><path d="M344.8,108.3 L448.3,-29 L690.7,131.5 L615.4,231.5 L454.3,177.4Z" fill="rgb(23,23,23)"/><path d="M366,258.9 L432.7,188.1 L494,214 L507.7,284.9 L458.2,314.9Z" fill="rgb(31,31,31)"/><path d="M335.3,531.7 L453.7,446 L582.8,408.7 L679.4,414.3 L690,489.5 L571.5,602.1 L458.6,617.9Z" fill="rgb(38,38,38)"/><path d="M450.1,611.5 L498.6,547.1 L563.1,568.8 L530.6,638.6Z" fill="rgb(28,28,28)"/><path d="M709.4,463.8 L752.5,388.6 L829.8,420 L765.1,505.8Z" fill="rgb(8,8,8)"/><path d="M81.4,636.5 L130.9,606.5 L332.8,651 L449,630.8 L635.8,677.4 L519.4,831.9 L227.3,746.4Z" fill="rgb(5,5,5)"/><path d="M759,353.2 L821.6,252.4 L907.4,317 L836.3,411.4Z" fill="rgb(64,64,64)"/></g>
<g filter="url(#b15)"><path d="M187.2,460.4 L228,424 L296.9,422 L385,394.3 L380.6,444.8 L310.6,493 L245.1,490.7Z" fill="rgb(87,87,87)"/><path d="M289.1,476.8 L335.5,424.2 L421.6,381.5 L501.2,347.3 L561.4,338.8 L619.4,342.1 L616.1,373.3 L554.8,401.1 L460.2,437.4 L365.5,473.7 L309.6,498.9Z" fill="rgb(105,105,105)"/><path d="M387.1,436.2 L473.1,393.5 L562.4,359.8 L571,379.7 L486,416.5 L404.3,449.1Z" fill="rgb(117,117,117)"/><path d="M359.3,374.9 L458.2,314.9 L535.6,319.4 L501.2,347.3 L421.6,381.5Z" fill="rgb(76,76,76)"/></g>
<g filter="url(#b6)"><path d="M302,513.4 L395.6,469.5 L513.9,424.2 L623.6,385.7 L608.5,428.1 L492.3,475.1 L376.1,522.2Z" fill="rgb(41,41,41)"/></g>
<g filter="url(#b6)"><path d="M586,350.7 L595.8,324.4 L638.8,316.4 L696.9,319.8 L736,339.2 L754.7,376.9 L718.7,380 L666.6,377.7 L619.3,369Z" fill="rgb(112,112,112)"/><path d="M626.9,354.6 L636.1,337.9 L675.3,330.4 L709.2,339.2 L708,358.5 L676.3,364.9 L643.6,363.7Z" fill="rgb(168,168,168)"/></g>
<g filter="url(#b3)"><path d="M645,354.7 L652.1,345.3 L691.8,344.2 L698.6,354.8 L687.3,361 L656.4,359.9Z" fill="rgb(255,255,255)"/></g>
</g></g>
<g filter="url(#b2)"><path d="M571.5,590.3 L579,590.3 L590.8,608.6 L585.5,612.9 L576.9,604.3Z" fill="#d8d0d0"/></g>
<path d="M715.5,763.3 L720.9,731.1 L747.7,715 L765.5,720.4 L765.5,763.3Z" fill="#3070d0"/>
<g transform="rotate(53 380 380)"><g filter="url(#cf1)">
<rect x="-180" y="-180" width="1120" height="1120" fill="#000"/>
<path d="M23.8,471.9 L17.4,413.3 L34.8,372.5 L81,346.9 L84.1,382.8 L102.3,430.2 L122.6,465.7 L153.8,469 L224.1,518.6 L179.4,542.1 L98.9,515Z" fill="#fff" fill-opacity="0.5"/>
<path d="M84.1,382.8 L81,346.9 L140.3,304 L167.1,290.6 L211.2,303.6 L256.3,297.3 L305.8,267.3 L345.6,250.2 L364.4,261 L374.5,292.2 L372.2,330.8 L346.4,365.2 L309.9,378 L273.3,390.9 L238.2,414.9 L230.2,412.3 L194.7,459.5 L241.9,495 L224.1,518.6 L153.8,469 L122.6,465.7 L102.3,430.2Z" fill="#fff" fill-opacity="0.8"/>
<path d="M243.1,421.9 L346.4,365.2 L372.2,330.8 L387.2,355.6 L393.6,400.7 L335.5,424.2 L281.7,451Z" fill="#fff" fill-opacity="0.45"/>
<path d="M200.4,465.1 L234.5,415.4 L279.1,445.7 L244.7,495.8Z" fill="#000" fill-opacity="0.95"/>
<path d="M346.4,365.2 L378.8,268.6 L439.1,233.2 L503.5,254.8 L516.3,318.3 L496.8,370.9 L436.6,379.3 L383,379.2Z" fill="#fff" fill-opacity="0.42"/>
<path d="M140.2,290.6 L187.6,245.5 L224.2,259.6 L271.4,241.5 L318.8,223.3 L340.2,239.4 L305.8,267.3 L256.3,297.3 L211.2,303.6 L167.1,290.6Z" fill="#fff" fill-opacity="0.42"/>
<path d="M482.5,309.6 L497,276.9 L525,257.6 L524.9,297.9 L516.3,318.3Z" fill="#fff" fill-opacity="0.7"/>
<path d="M-19.4,560.5 L0.2,528.2 L25.1,541.6 L30.9,571.4 L14.9,586.3Z" fill="#fff" fill-opacity="0.95"/>
<path d="M42.8,607.3 L103.1,572 L238.5,553 L291.1,572.4 L242.6,636.8 L156.6,652.8 L137.2,678.5Z" fill="#fff" fill-opacity="0.43"/>
<path d="M137.2,678.5 L242.6,636.8 L291.1,572.4 L363.2,566.2 L370.5,632.3 L336.1,673.6 L312.2,723 L246.7,720.7 L197.3,723.8Z" fill="#fff" fill-opacity="0.25"/>
<path d="M137.2,678.5 L156.6,652.8 L214.7,656.1 L238.2,687.3 L197.3,723.8Z" fill="#fff" fill-opacity="0.75"/>
<path d="M238.2,687.3 L262,637.9 L305,643.4 L324.2,671.4 L312.2,723 L246.7,720.7Z" fill="#fff" fill-opacity="0.72"/>
<path d="M336.1,673.6 L370.5,632.3 L412.3,643.7 L410.1,682.3 L373.6,695.1Z" fill="#fff" fill-opacity="0.75"/>
<path d="M312.2,723 L341.4,684.3 L410.1,709.2 L462.8,701.8 L513.3,679.3 L563.8,683.8 L622.9,694.6 L551.7,789 L464.7,770.5 L389.6,754.3Z" fill="#fff" fill-opacity="0.68"/>
<path d="M291.1,572.4 L363.2,566.2 L415.8,585.6 L455.4,622.3 L508,641.8 L580.1,635.4 L661.7,643.1 L622.9,694.6 L563.8,683.8 L513.3,679.3 L462.8,701.8 L412.3,643.7 L370.5,632.3 L305,643.4 L262,637.9Z" fill="#fff" fill-opacity="0.45"/>
<path d="M363.2,566.2 L451.3,538.4 L520.1,536.4 L623.2,533.5 L713.4,574.5 L661.7,643.1 L580.1,635.4 L508,641.8 L455.4,622.3 L415.8,585.6Z" fill="#fff" fill-opacity="0.37"/>
<path d="M366.4,561.9 L399.8,499.6 L516,452.6 L606.2,466.8 L623.2,533.5 L520.1,536.4 L451.3,538.4Z" fill="#fff" fill-opacity="0.34"/>
</g></g>
</g>
<path d="M123.9,75.9 L133.7,87.1 L139.2,99.7 L141.2,103.3" fill="none" stroke="#3c3c3c" stroke-width="7.5" stroke-linejoin="round"/>
<path d="M123.9,75.9 L133.7,87.1 L139.2,99.7 L141.2,103.3" fill="none" stroke="#fff" stroke-width="3" stroke-linejoin="round"/>
<path d="M466.2,302 L445.3,318.8 L417.4,338.3 L392.2,355 L383.9,349.5" fill="none" stroke="#3c3c3c" stroke-width="7.5" stroke-linejoin="round"/>
<path d="M466.2,302 L445.3,318.8 L417.4,338.3 L392.2,355 L383.9,349.5" fill="none" stroke="#fff" stroke-width="3" stroke-linejoin="round"/>
<use href="#coast" fill="none" stroke="#3c3c3c" stroke-width="2.6" stroke-linejoin="round"/>
</g>
<rect x="0" y="0" width="760" height="760" fill="none" stroke="#858585" stroke-width="2"/>
</g>
<g stroke="#3a3a3a" stroke-width="4.0" fill="none">
<rect x="209" y="978" width="697" height="696"/>
<path d="M209.0,978v-19M209.0,1674v19M243.8,978v-10M243.8,1674v10M278.7,978v-10M278.7,1674v10M313.6,978v-10M313.6,1674v10M348.4,978v-19M348.4,1674v19M383.2,978v-10M383.2,1674v10M418.1,978v-10M418.1,1674v10M452.9,978v-10M452.9,1674v10M487.8,978v-19M487.8,1674v19M522.6,978v-10M522.6,1674v10M557.5,978v-10M557.5,1674v10M592.4,978v-10M592.4,1674v10M627.2,978v-19M627.2,1674v19M662.0,978v-10M662.0,1674v10M696.9,978v-10M696.9,1674v10M731.8,978v-10M731.8,1674v10M766.6,978v-19M766.6,1674v19M801.5,978v-10M801.5,1674v10M836.3,978v-10M836.3,1674v10M871.1,978v-10M871.1,1674v10M906.0,978v-19M906.0,1674v19M209,978.0h-16M906,978.0h16M209,1036.0h-10M906,1036.0h10M209,1094.0h-16M906,1094.0h16M209,1152.0h-10M906,1152.0h10M209,1210.0h-16M906,1210.0h16M209,1268.0h-10M906,1268.0h10M209,1326.0h-16M906,1326.0h16M209,1384.0h-10M906,1384.0h10M209,1442.0h-16M906,1442.0h16M209,1500.0h-10M906,1500.0h10M209,1558.0h-16M906,1558.0h16M209,1616.0h-10M906,1616.0h10M209,1674.0h-16M906,1674.0h16" stroke-width="3.5"/>
</g>
<g fill="#222">
<text x="177" y="1002.2" font-size="48" text-anchor="end" textLength="124.1" lengthAdjust="spacingAndGlyphs">30,000</text>
<text x="177" y="1114.9" font-size="48" text-anchor="end" textLength="124.1" lengthAdjust="spacingAndGlyphs">25,000</text>
<text x="177" y="1226.3" font-size="48" text-anchor="end" textLength="124.1" lengthAdjust="spacingAndGlyphs">20,000</text>
<text x="177" y="1339.0" font-size="48" text-anchor="end" textLength="124.1" lengthAdjust="spacingAndGlyphs">15,000</text>
<text x="177" y="1451.1" font-size="48" text-anchor="end" textLength="124.1" lengthAdjust="spacingAndGlyphs">10,000</text>
<text x="168" y="1563.2" font-size="48" text-anchor="end" textLength="101.5" lengthAdjust="spacingAndGlyphs">5,000</text>
<text x="171.5" y="1688.7" font-size="48" text-anchor="end" >0</text>
<text x="210.0" y="1745.7" font-size="47" text-anchor="middle" >0</text>
<text x="349.4" y="1745.7" font-size="47" text-anchor="middle" textLength="55.2" lengthAdjust="spacingAndGlyphs">0.2</text>
<text x="488.8" y="1745.7" font-size="47" text-anchor="middle" textLength="55.2" lengthAdjust="spacingAndGlyphs">0.4</text>
<text x="628.2" y="1745.7" font-size="47" text-anchor="middle" textLength="55.2" lengthAdjust="spacingAndGlyphs">0.6</text>
<text x="767.6" y="1745.7" font-size="47" text-anchor="middle" textLength="55.2" lengthAdjust="spacingAndGlyphs">0.8</text>
<text x="907.0" y="1745.7" font-size="47" text-anchor="middle" >1</text>
<text x="557.5" y="1801" font-size="46.5" text-anchor="middle" >R</text>
</g>
<g fill="none" stroke="#3a3a3a" stroke-linejoin="round">
<path d="M242.6,1674.9 L246.1,1665.1 L248.9,1647.7 L252.3,1612.8 L255.8,1574.4 L259.3,1549.9 L262.8,1525.5 L266.3,1502.8 L269.8,1485.4 L275,1474.9 L281,1470.7 L290.7,1474.9 L299.5,1483.6 L306.4,1494.1 L313.4,1497.6 L320.4,1494.1 L325.6,1476.7 L333.3,1455.7 L339.6,1459.2 L348.3,1464.4 L355.3,1487.1 L361.2,1513.3 L371,1527.3 L381.5,1544.7 L390.2,1562.2 L400.7,1574.4 L409.4,1584.8 L418.1,1594.6 L426.9,1590.1 L433.8,1593.6 L444.3,1604 L454.8,1618 L465.2,1628.5 L475.7,1635.4 L486.2,1645.9 L498.4,1658.1 L510.6,1665.1 L522.8,1672.8 L535,1674.9" stroke-width="3.2"/>
<path d="M252.3,1674.9 L264.6,1665.8 L276.8,1665.1 L290.7,1667.9 L311.7,1666.9 L332.6,1664.4 L353.6,1664.1 L367.5,1661.6 L379.7,1655.3 L390.2,1644.2 L400.7,1618 L411.1,1581.3 L421.6,1529 L430.3,1452.2 L439.1,1378.9 L446,1326.6 L454.8,1277.7 L460,1242.8 L467,1218.4 L472.2,1246.3 L477.5,1295.2 L482.7,1354.5 L489.7,1424.3 L496.6,1476.7 L503.6,1522 L512.4,1574.4 L521.1,1612.8 L531.5,1644.2 L542,1661.6 L552.5,1670.3 L563,1674.2 L583.9,1674.9" stroke-width="3" stroke-dasharray="13 8.5"/>
</g>
<g stroke="#111" stroke-width="6"><path d="M478,1040H628"/><path d="M472,1129.7H624" stroke-dasharray="25 19.5"/></g>
<text x="642" y="1060" font-size="78" text-anchor="start" >674nm</text>
<text x="643" y="1154" font-size="78" text-anchor="start" >869nm</text>
<g stroke="#3a3a3a" stroke-width="4.0" fill="none">
<rect x="1107.8" y="981" width="697.2" height="693.8"/>
<path d="M1107.8,981v-19M1107.8,1674.8v19M1151.4,981v-10M1151.4,1674.8v10M1195.0,981v-10M1195.0,1674.8v10M1238.5,981v-10M1238.5,1674.8v10M1282.1,981v-19M1282.1,1674.8v19M1325.7,981v-10M1325.7,1674.8v10M1369.2,981v-10M1369.2,1674.8v10M1412.8,981v-10M1412.8,1674.8v10M1456.4,981v-19M1456.4,1674.8v19M1500.0,981v-10M1500.0,1674.8v10M1543.5,981v-10M1543.5,1674.8v10M1587.1,981v-10M1587.1,1674.8v10M1630.7,981v-19M1630.7,1674.8v19M1674.3,981v-10M1674.3,1674.8v10M1717.8,981v-10M1717.8,1674.8v10M1761.4,981v-10M1761.4,1674.8v10M1805.0,981v-19M1805.0,1674.8v19M1107.8,981.0h-16M1805,981.0h16M1107.8,1038.8h-10M1805,1038.8h10M1107.8,1096.6h-16M1805,1096.6h16M1107.8,1154.5h-10M1805,1154.5h10M1107.8,1212.3h-16M1805,1212.3h16M1107.8,1270.1h-10M1805,1270.1h10M1107.8,1327.9h-16M1805,1327.9h16M1107.8,1385.7h-10M1805,1385.7h10M1107.8,1443.5h-16M1805,1443.5h16M1107.8,1501.3h-10M1805,1501.3h10M1107.8,1559.2h-16M1805,1559.2h16M1107.8,1617.0h-10M1805,1617.0h10M1107.8,1674.8h-16M1805,1674.8h16" stroke-width="3.5"/>
</g>
<g fill="#222">
<text x="1070" y="1009.6" font-size="48" text-anchor="end" textLength="124.1" lengthAdjust="spacingAndGlyphs">30,000</text>
<text x="1070" y="1123.2" font-size="48" text-anchor="end" textLength="124.1" lengthAdjust="spacingAndGlyphs">25,000</text>
<text x="1070" y="1234.4" font-size="48" text-anchor="end" textLength="124.1" lengthAdjust="spacingAndGlyphs">20,000</text>
<text x="1070" y="1345.9" font-size="48" text-anchor="end" textLength="124.1" lengthAdjust="spacingAndGlyphs">15,000</text>
<text x="1070" y="1458.0" font-size="48" text-anchor="end" textLength="124.1" lengthAdjust="spacingAndGlyphs">10,000</text>
<text x="1061" y="1569.2" font-size="48" text-anchor="end" textLength="101.5" lengthAdjust="spacingAndGlyphs">5,000</text>
<text x="1071.5" y="1689.6" font-size="48" text-anchor="end" >0</text>
<text x="1108.8" y="1750" font-size="47" text-anchor="middle" >0</text>
<text x="1283.1" y="1750" font-size="47" text-anchor="middle" textLength="77.3" lengthAdjust="spacingAndGlyphs">0.02</text>
<text x="1457.4" y="1750" font-size="47" text-anchor="middle" textLength="77.3" lengthAdjust="spacingAndGlyphs">0.04</text>
<text x="1631.7" y="1750" font-size="47" text-anchor="middle" textLength="77.3" lengthAdjust="spacingAndGlyphs">0.06</text>
<text x="1806.0" y="1750" font-size="47" text-anchor="middle" textLength="77.3" lengthAdjust="spacingAndGlyphs">0.08</text>
<text x="1456.4" y="1801" font-size="46.5" text-anchor="middle" >PR</text>
</g>
<path d="M966,965H1061" stroke="#c8c8c8" stroke-width="2" stroke-dasharray="7 9"/>
<g fill="none" stroke="#3a3a3a" stroke-linejoin="round">
<path d="M1107.6,1673.7 L1131.9,1666.2 L1157,1651.5 L1175.8,1634.8 L1188.4,1607.6 L1201,1561.5 L1213.5,1502.9 L1224,1435.9 L1232.4,1352.2 L1238.6,1247.5 L1247,1117.7 L1255.4,1218.2 L1263.8,1304 L1281.8,1294.4 L1288.9,1364.7 L1297.3,1440.1 L1307.7,1523.8 L1318.2,1590.8 L1324.5,1622.2 L1337,1645.2 L1353.8,1659.9 L1378.9,1667 L1408.2,1671.2 L1425,1673.7" stroke-width="2.8"/>
<path d="M1107.6,1673.7 L1152.8,1671.2 L1194.7,1664.1 L1224,1655.7 L1251.2,1645.2 L1270,1628.5 L1291,1599.2 L1311.9,1569.9 L1324.5,1563.6 L1341.2,1530.1 L1353.8,1482 L1368.4,1429.6 L1386.4,1406.6 L1395.7,1425.4 L1412.4,1419.1 L1420.8,1469.4 L1431.2,1519.6 L1445.9,1553.1 L1458.5,1576.2 L1473.1,1574.1 L1487.8,1588.7 L1498.2,1605.5 L1510.8,1608.4 L1525.4,1626.4 L1544.3,1647.3 L1563.1,1658.6 L1592.4,1667 L1621.7,1672.5 L1688.7,1673.7" stroke-width="2.8" stroke-dasharray="13 8.5"/>
</g>
<g stroke="#111" stroke-width="6"><path d="M1378,1036.3H1528"/><path d="M1372,1123H1524" stroke-dasharray="25 19.5"/></g>
<text x="1542" y="1056" font-size="78" text-anchor="start" >674nm</text>
<text x="1543" y="1151" font-size="78" text-anchor="start" >869nm</text>
<text y="89.5" font-size="79"><tspan x="572">(a</tspan><tspan x="634">）</tspan><tspan x="716" textLength="763" lengthAdjust="spacingAndGlyphs">AOT(500nm)@SGL/L2</tspan></text>
<text x="256" y="183" font-size="72" text-anchor="start" textLength="368" lengthAdjust="spacingAndGlyphs">(2.5N, 100E)</text>
<text x="409" y="944" font-size="82" text-anchor="start" >(b) R</text>
<text x="1051" y="939" font-size="70" text-anchor="start" textLength="356" lengthAdjust="spacingAndGlyphs">(2.5S, 105E)</text>
<text x="1472" y="939" font-size="81" text-anchor="start" >(c) PR</text>
<text x="452" y="1878" font-size="78.5" text-anchor="start" >(d) R(674)</text>
<text x="1222" y="1875" font-size="79.5" text-anchor="start" >(d’) PR(674)</text>
<text x="432" y="2753" font-size="78.5" text-anchor="start" >(e) R(869)</text>
<text x="1191" y="2759" font-size="79" text-anchor="start" >(e’) PR(869)</text>
<rect x="312" y="612" width="34" height="37" fill="#c2c2c2" stroke="#d0d0d0" stroke-width="1.5"/>
<text x="365" y="642" font-size="69" text-anchor="start" textLength="234" lengthAdjust="spacingAndGlyphs">:cloud@</text>
<text x="346" y="726" font-size="67" text-anchor="start" textLength="235" lengthAdjust="spacingAndGlyphs">SGLI/L2</text>
<rect x="1420.7" y="255.5" width="21.6" height="485.6" fill="url(#gAOT)" stroke="#8c8c94" stroke-width="2"/>
<path d="M1443,257.9H1473M1443,354.1H1473M1443,450.4H1473M1443,545.8H1473M1443,645.3H1473M1443,741H1473" stroke="#111" stroke-width="3.5"/>
<text x="1473.5" y="279" font-size="68.5" text-anchor="start" >5</text>
<text x="1473.5" y="375" font-size="68.5" text-anchor="start" >4</text>
<text x="1473.5" y="471" font-size="68.5" text-anchor="start" >3</text>
<text x="1473.5" y="570.4" font-size="68.5" text-anchor="start" >2</text>
<text x="1473.5" y="670" font-size="68.5" text-anchor="start" >1</text>
<text x="1473.5" y="769.5" font-size="68.5" text-anchor="start" >0</text>
<rect x="145.3" y="2403" width="25.6" height="561.5" fill="url(#gR)"/>
<path d="M116.5,2404.5H146M116.5,2545.9H146M116.5,2683.5H146M116.5,2821.9H146M116.5,2963.3H146" stroke="#111" stroke-width="3.5"/>
<text x="30.5" y="2426" font-size="68.5" text-anchor="start" >0.5</text>
<text x="13.5" y="2567" font-size="68.5" text-anchor="start" >0.4</text>
<text x="20.0" y="2708.6" font-size="68.5" text-anchor="start" >0.3</text>
<text x="29.5" y="2840.6" font-size="68.5" text-anchor="start" >0.2</text>
<text x="32.5" y="2978.5" font-size="68.5" text-anchor="start" >0.1</text>
<text x="96" y="2343" font-size="83" text-anchor="start" >R</text>
<rect x="1803.3" y="2445" width="18.5" height="564" fill="url(#gPR)"/>
<path d="M1822,2449.5H1849.3M1822,2583.8H1849.3M1822,2725.6H1849.3M1822,2866.9H1849.3M1822,3008.1H1849.3" stroke="#111" stroke-width="3.5"/>
<text x="1857.5" y="2464.5" font-size="68.5" text-anchor="start" >0.1</text>
<text x="1851.5" y="2599.1" font-size="68.5" text-anchor="start" >0.08</text>
<text x="1849.1" y="2744.1" font-size="68.5" text-anchor="start" >0.06</text>
<text x="1849.1" y="2888.6" font-size="68.5" text-anchor="start" >0.04</text>
<text x="1857.2" y="3029.5" font-size="68.5" text-anchor="start" >0.02</text>
<text x="1808" y="2388" font-size="82" text-anchor="start" >PR</text>
</svg></body></html>
